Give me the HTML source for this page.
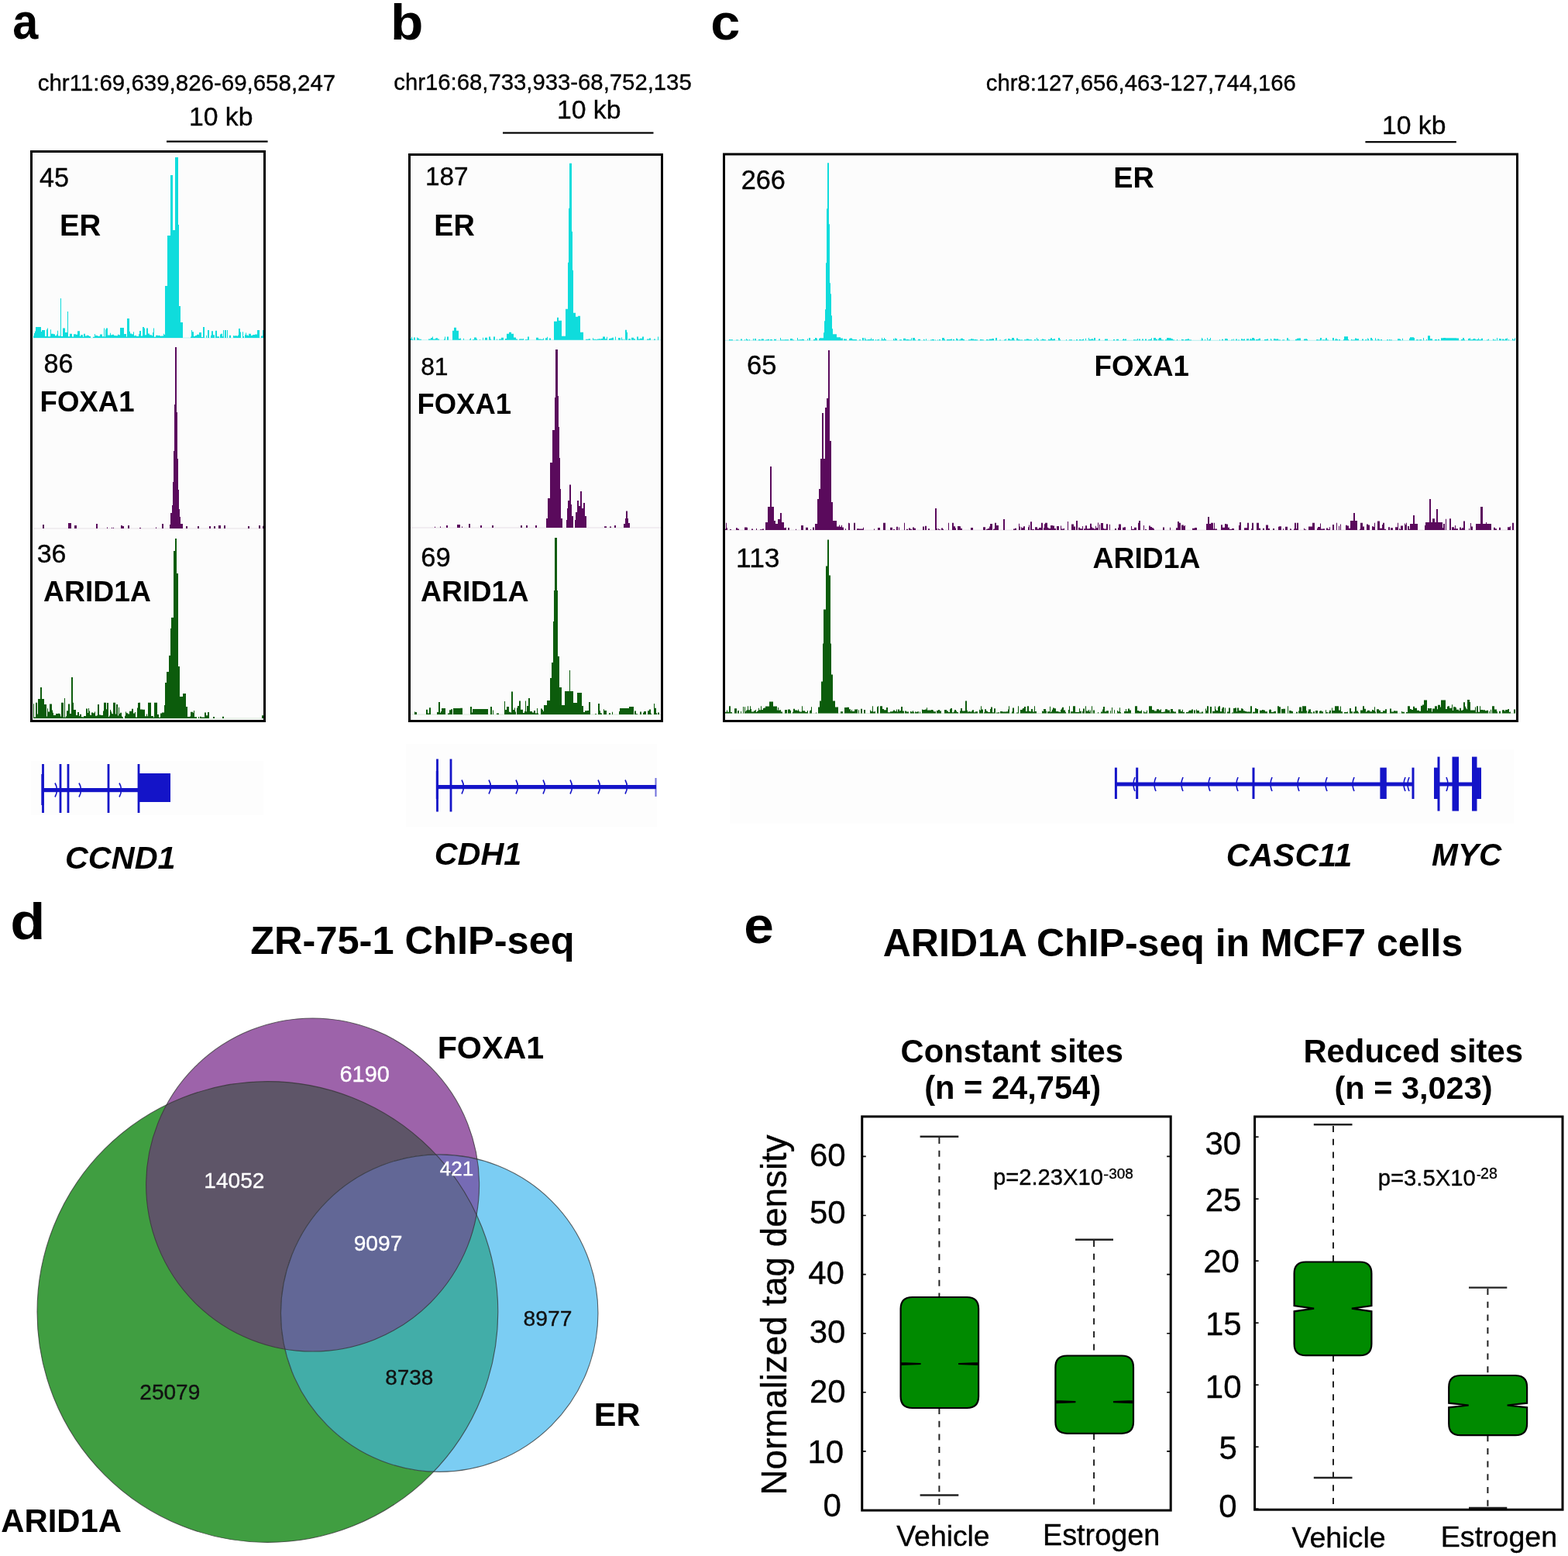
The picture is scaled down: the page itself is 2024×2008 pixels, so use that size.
<!DOCTYPE html>
<html><head><meta charset="utf-8"><title>ARID1A ChIP-seq figure</title>
<style>
html,body{margin:0;padding:0;background:#fff;}
svg{display:block;}
text{font-family:"Liberation Sans",Arial,Helvetica,sans-serif;}
</style></head><body>
<svg width="2024" height="2008" viewBox="0 0 2024 2008">
<rect width="2024" height="2008" fill="#fff"/>
<rect x="40.5" y="195.5" width="301" height="735" fill="#fcfcfc"/>
<rect x="528.5" y="199.5" width="326" height="731" fill="#fcfcfc"/>
<rect x="934.5" y="199" width="1024" height="731.5" fill="#fcfcfc"/>
<rect x="40" y="982" width="300" height="70" fill="#fdfdfd"/>
<rect x="524" y="960" width="324" height="107" fill="#fdfdfd"/>
<rect x="942" y="967" width="1012" height="96" fill="#fdfdfd"/>
<rect x="43" y="435.5" width="297" height="1" fill="#c8f2f2"/><path d="M43.0 436V433.3H44.0V429.9H45.0V427.5H46.0V422.0H47.0V422.0H48.0V422.0H49.0V422.0H50.0V422.0H51.0V422.0H52.0V422.0H53.0V428.1H54.0V426.0H55.0V426.0H56.0V426.0H57.0V426.0H58.0V434.1H59.0V434.1H60.0V425.3H61.0V423.6H62.0V434.2H63.0V434.2H64.0V434.2H65.0V425.3H66.0V430.8H67.0V430.8H68.0V430.8H69.0V431.3H70.0V431.3H71.0V433.3H72.0V433.3H73.0V431.5H74.0V426.8H75.0V433.4H76.0V433.4H77.0V433.4H78.0V385.0H79.0V433.9H80.0V433.9H81.0V423.6H82.0V423.6H83.0V423.6H84.0V429.0H85.0V429.0H86.0V429.0H87.0V402.0H88.0V434.2H89.0V434.2H90.0V430.7H91.0V430.7H92.0V430.7H93.0V434.6H94.0V434.6H95.0V431.3H96.0V431.3H97.0V431.3H98.0V431.7H99.0V431.7H100.0V427.3H101.0V427.3H102.0V427.3H103.0V434.1H104.0V432.3H105.0V432.3H106.0V432.3H107.0V434.7H108.0V430.7H109.0V430.7H110.0V433.4H111.0V433.4H112.0V432.4H113.0V433.1H114.0V433.1H115.0V434.0H116.0V434.0H117.0V436ZM120.0 436V434.7H121.0V434.7H122.0V430.9H123.0V432.9H124.0V432.9H125.0V432.9H126.0V433.8H127.0V433.8H128.0V433.8H129.0V431.5H130.0V431.5H131.0V431.5H132.0V434.3H133.0V434.3H134.0V423.6H135.0V434.4H136.0V425.2H137.0V423.6H138.0V423.6H139.0V432.5H140.0V432.5H141.0V432.5H142.0V429.8H143.0V432.3H144.0V432.3H145.0V431.8H146.0V431.8H147.0V432.9H148.0V432.9H149.0V433.3H150.0V433.3H151.0V433.3H152.0V431.6H153.0V432.2H154.0V432.2H155.0V423.0H156.0V423.0H157.0V423.0H158.0V423.0H159.0V423.0H160.0V431.0H161.0V431.0H162.0V431.0H163.0V434.5H164.0V411.0H165.0V411.0H166.0V411.0H167.0V427.7H168.0V430.6H169.0V430.6H170.0V431.3H171.0V431.3H172.0V428.2H173.0V433.3H174.0V433.3H175.0V432.7H176.0V433.9H177.0V433.9H178.0V433.9H179.0V431.2H180.0V427.1H181.0V427.1H182.0V433.6H183.0V433.6H184.0V422.0H185.0V422.0H186.0V423.6H187.0V432.3H188.0V432.3H189.0V423.6H190.0V423.6H191.0V430.6H192.0V430.6H193.0V432.3H194.0V432.3H195.0V432.3H196.0V433.2H197.0V429.1H198.0V423.6H199.0V434.8H200.0V434.8H201.0V432.7H202.0V432.7H203.0V432.7H204.0V433.1H205.0V433.1H206.0V433.1H207.0V434.1H208.0V433.5H209.0V433.5H210.0V433.5H211.0V430.8H212.0V432.0H213.0V369.0H214.0V369.0H215.0V369.0H216.0V304.0H217.0V304.0H218.0V304.0H219.0V304.0H220.0V226.0H221.0V226.0H222.0V226.0H223.0V297.0H224.0V297.0H225.0V297.0H226.0V203.0H227.0V203.0H228.0V203.0H229.0V203.0H230.0V290.0H231.0V395.0H232.0V395.0H233.0V416.0H234.0V416.0H235.0V416.0H236.0V436ZM246.0 436V434.5H247.0V425.9H248.0V428.3H249.0V428.3H250.0V434.1H251.0V434.1H252.0V433.0H253.0V433.0H254.0V431.8H255.0V431.8H256.0V431.8H257.0V429.0H258.0V429.0H259.0V429.0H260.0V434.9H261.0V434.9H262.0V422.0H263.0V422.0H264.0V436ZM266.0 436V432.7H267.0V436ZM268.0 436V425.9H269.0V425.9H270.0V436ZM272.0 436V432.8H273.0V427.3H274.0V427.3H275.0V432.3H276.0V432.3H277.0V436ZM278.0 436V426.8H279.0V426.8H280.0V434.2H281.0V434.2H282.0V434.2H283.0V436ZM284.0 436V431.5H285.0V430.7H286.0V430.7H287.0V434.3H288.0V425.9H289.0V436ZM290.0 436V426.0H291.0V426.0H292.0V436ZM293.0 436V425.9H294.0V436ZM296.0 436V432.7H297.0V432.7H298.0V436ZM301.0 436V433.1H302.0V433.5H303.0V433.2H304.0V433.2H305.0V433.2H306.0V433.7H307.0V432.4H308.0V424.0H309.0V424.0H310.0V428.5H311.0V436ZM313.0 436V428.2H314.0V433.9H315.0V436ZM316.0 436V432.0H317.0V429.4H318.0V432.5H319.0V432.5H320.0V433.3H321.0V430.7H322.0V430.7H323.0V430.7H324.0V433.0H325.0V433.0H326.0V432.0H327.0V432.0H328.0V432.0H329.0V431.4H330.0V431.4H331.0V431.4H332.0V425.9H333.0V425.9H334.0V425.9H335.0V436ZM337.0 436V433.4H338.0V433.4H339.0V425.9H340.0V436Z" fill="#0fdcdc"/>
<rect x="43" y="681.5" width="297" height="1" fill="#e6e0e6"/><path d="M55.0 682V677.0H56.0V677.0H57.0V682ZM88.0 682V675.0H89.0V675.0H90.0V675.0H91.0V675.0H92.0V682ZM96.0 682V678.0H97.0V678.0H98.0V678.0H99.0V682ZM124.0 682V676.0H125.0V676.0H126.0V682ZM138.0 682V680.4H139.0V682ZM144.0 682V680.7H145.0V682ZM146.0 682V680.8H147.0V682ZM156.0 682V678.0H157.0V678.0H158.0V678.9H159.0V678.9H160.0V682ZM165.0 682V678.0H166.0V678.0H167.0V682ZM180.0 682V681.1H181.0V681.1H182.0V682ZM201.0 682V680.6H202.0V682ZM209.0 682V676.0H210.0V676.0H211.0V682ZM219.0 682V677.0H220.0V662.0H221.0V662.0H222.0V652.0H223.0V622.0H224.0V582.0H225.0V522.0H226.0V448.0H227.0V448.0H228.0V532.0H229.0V592.0H230.0V632.0H231.0V657.0H232.0V667.0H233.0V676.0H234.0V676.0H235.0V676.0H236.0V682ZM240.0 682V679.0H241.0V679.0H242.0V682ZM255.0 682V679.0H256.0V679.0H257.0V682ZM270.0 682V679.0H271.0V679.0H272.0V682ZM276.0 682V679.0H277.0V679.0H278.0V682ZM282.0 682V678.0H283.0V678.0H284.0V678.0H285.0V682ZM289.0 682V678.0H290.0V678.0H291.0V682ZM320.0 682V679.0H321.0V679.0H322.0V682ZM334.0 682V678.0H335.0V678.0H336.0V682ZM339.0 682V678.7H340.0V682Z" fill="#5a0a5c"/>
<rect x="43" y="926.5" width="297" height="1" fill="#d8e8d8"/><path d="M43.0 927V908.3H44.0V925.6H45.0V925.6H46.0V906.8H47.0V906.8H48.0V921.4H49.0V902.0H50.0V902.0H51.0V902.0H52.0V887.0H53.0V887.0H54.0V902.0H55.0V902.0H56.0V902.0H57.0V909.0H58.0V909.0H59.0V909.0H60.0V924.6H61.0V914.2H62.0V918.5H63.0V918.5H64.0V908.4H65.0V908.4H66.0V908.4H67.0V916.4H68.0V919.8H69.0V923.0H70.0V923.0H71.0V923.0H72.0V921.0H73.0V921.0H74.0V921.0H75.0V920.8H76.0V920.8H77.0V921.4H78.0V924.5H79.0V906.8H80.0V906.8H81.0V906.8H82.0V925.7H83.0V901.0H84.0V925.7H85.0V924.2H86.0V917.2H87.0V917.2H88.0V908.4H89.0V908.4H90.0V921.0H91.0V921.0H92.0V874.0H93.0V874.0H94.0V906.8H95.0V916.0H96.0V916.0H97.0V916.0H98.0V922.9H99.0V922.9H100.0V919.1H101.0V919.1H102.0V923.9H103.0V921.7H104.0V921.7H105.0V925.3H106.0V925.3H107.0V925.5H108.0V924.1H109.0V924.1H110.0V924.1H111.0V914.5H112.0V914.5H113.0V919.9H114.0V914.0H115.0V917.4H116.0V922.4H117.0V923.1H118.0V919.6H119.0V919.6H120.0V920.3H121.0V920.3H122.0V918.5H123.0V923.8H124.0V923.8H125.0V923.2H126.0V909.0H127.0V909.0H128.0V922.4H129.0V922.4H130.0V923.1H131.0V923.1H132.0V923.1H133.0V917.6H134.0V906.8H135.0V906.8H136.0V906.8H137.0V915.3H138.0V907.0H139.0V907.0H140.0V925.1H141.0V923.4H142.0V916.1H143.0V918.3H144.0V920.7H145.0V921.2H146.0V906.8H147.0V906.8H148.0V906.8H149.0V921.5H150.0V909.0H151.0V909.0H152.0V923.5H153.0V912.8H154.0V921.3H155.0V919.7H156.0V919.7H157.0V924.5H158.0V925.4H159.0V927ZM161.0 927V923.8H162.0V918.6H163.0V920.3H164.0V920.3H165.0V921.3H166.0V921.4H167.0V917.7H168.0V917.7H169.0V917.7H170.0V914.8H171.0V914.8H172.0V920.4H173.0V920.4H174.0V919.1H175.0V925.4H176.0V925.4H177.0V913.4H178.0V907.0H179.0V906.8H180.0V906.8H181.0V915.5H182.0V915.5H183.0V915.5H184.0V915.7H185.0V915.7H186.0V915.7H187.0V924.2H188.0V924.2H189.0V921.4H190.0V924.3H191.0V906.8H192.0V906.8H193.0V906.8H194.0V906.8H195.0V923.9H196.0V923.9H197.0V923.9H198.0V925.7H199.0V906.8H200.0V906.8H201.0V906.8H202.0V906.8H203.0V922.1H204.0V922.1H205.0V925.8H206.0V925.8H207.0V920.5H208.0V920.5H209.0V919.6H210.0V919.6H211.0V919.6H212.0V909.9H213.0V881.0H214.0V881.0H215.0V867.0H216.0V867.0H217.0V867.0H218.0V846.0H219.0V846.0H220.0V811.0H221.0V797.0H222.0V797.0H223.0V797.0H224.0V711.0H225.0V711.0H226.0V695.0H227.0V695.0H228.0V740.0H229.0V740.0H230.0V860.0H231.0V860.0H232.0V899.0H233.0V899.0H234.0V899.0H235.0V899.0H236.0V895.0H237.0V895.0H238.0V895.0H239.0V895.0H240.0V912.0H241.0V912.0H242.0V925.0H243.0V925.0H244.0V925.0H245.0V924.6H246.0V918.7H247.0V918.7H248.0V918.7H249.0V919.8H250.0V917.1H251.0V925.2H252.0V925.2H253.0V925.2H254.0V927ZM256.0 927V924.9H257.0V927ZM258.0 927V924.8H259.0V924.8H260.0V925.7H261.0V925.4H262.0V925.4H263.0V925.8H264.0V919.4H265.0V919.4H266.0V923.3H267.0V923.3H268.0V919.1H269.0V919.1H270.0V927ZM275.0 927V924.9H276.0V924.9H277.0V927ZM287.0 927V924.8H288.0V924.8H289.0V927ZM338.0 927V923.3H339.0V923.3H340.0V927Z" fill="#0c5c0c"/>
<rect x="530" y="438.25" width="323" height="1" fill="#c8f2f2"/><path d="M530.0 438.75V437.0H531.0V434.8H532.0V437.5H533.0V438.75ZM534.0 438.75V435.4H535.0V435.4H536.0V438.75ZM538.0 438.75V435.5H539.0V436.4H540.0V436.4H541.0V437.7H542.0V437.7H543.0V437.7H544.0V438.75ZM553.0 438.75V437.6H554.0V437.6H555.0V437.6H556.0V435.9H557.0V435.9H558.0V434.6H559.0V437.4H560.0V437.4H561.0V437.4H562.0V436.4H563.0V436.3H564.0V436.3H565.0V437.6H566.0V437.6H567.0V438.75ZM573.0 438.75V437.4H574.0V434.6H575.0V438.75ZM577.0 438.75V434.6H578.0V434.6H579.0V438.75ZM584.0 438.75V426.8H585.0V426.8H586.0V422.8H587.0V422.8H588.0V422.8H589.0V426.8H590.0V426.8H591.0V426.8H592.0V436.9H593.0V436.9H594.0V436.5H595.0V438.75ZM598.0 438.75V436.8H599.0V438.75ZM606.0 438.75V437.4H607.0V436.6H608.0V438.75ZM610.0 438.75V437.9H611.0V437.9H612.0V435.5H613.0V435.5H614.0V435.5H615.0V437.2H616.0V438.75ZM619.0 438.75V437.9H620.0V438.75ZM623.0 438.75V435.8H624.0V438.75ZM626.0 438.75V435.7H627.0V435.7H628.0V435.7H629.0V438.75ZM631.0 438.75V434.6H632.0V434.6H633.0V437.5H634.0V438.75ZM637.0 438.75V434.6H638.0V434.6H639.0V438.75ZM641.0 438.75V437.5H642.0V438.75ZM644.0 438.75V437.4H645.0V437.4H646.0V437.4H647.0V435.8H648.0V435.8H649.0V435.8H650.0V438.75ZM652.0 438.75V437.1H653.0V437.1H654.0V430.8H655.0V430.8H656.0V430.8H657.0V428.8H658.0V428.8H659.0V428.8H660.0V430.8H661.0V430.8H662.0V430.8H663.0V435.6H664.0V435.5H665.0V435.5H666.0V437.4H667.0V437.4H668.0V438.75ZM670.0 438.75V437.5H671.0V437.5H672.0V437.3H673.0V437.6H674.0V437.6H675.0V437.0H676.0V438.75ZM678.0 438.75V437.9H679.0V437.9H680.0V437.9H681.0V434.6H682.0V434.6H683.0V438.75ZM692.0 438.75V435.7H693.0V435.7H694.0V435.7H695.0V437.6H696.0V437.6H697.0V437.6H698.0V437.7H699.0V437.7H700.0V437.7H701.0V436.6H702.0V438.75ZM704.0 438.75V436.3H705.0V436.3H706.0V434.8H707.0V438.75ZM709.0 438.75V436.5H710.0V436.5H711.0V438.75ZM715.0 438.75V414.8H716.0V414.8H717.0V414.8H718.0V414.8H719.0V409.8H720.0V409.8H721.0V413.8H722.0V413.8H723.0V413.8H724.0V413.8H725.0V433.8H726.0V433.8H727.0V433.8H728.0V433.8H729.0V433.8H730.0V398.8H731.0V398.8H732.0V398.8H733.0V338.8H734.0V268.8H735.0V210.8H736.0V210.8H737.0V210.8H738.0V298.8H739.0V348.8H740.0V403.8H741.0V403.8H742.0V403.8H743.0V408.8H744.0V408.8H745.0V408.8H746.0V407.8H747.0V407.8H748.0V407.8H749.0V428.8H750.0V428.8H751.0V428.8H752.0V428.8H753.0V438.75ZM756.0 438.75V437.7H757.0V437.7H758.0V437.7H759.0V437.6H760.0V437.2H761.0V437.2H762.0V438.75ZM765.0 438.75V436.2H766.0V437.7H767.0V437.7H768.0V437.7H769.0V438.0H770.0V438.0H771.0V437.5H772.0V437.5H773.0V437.3H774.0V437.3H775.0V437.4H776.0V437.0H777.0V437.1H778.0V434.6H779.0V434.6H780.0V434.6H781.0V437.2H782.0V437.2H783.0V434.7H784.0V438.75ZM786.0 438.75V436.9H787.0V436.9H788.0V436.6H789.0V436.6H790.0V435.7H791.0V435.7H792.0V438.75ZM794.0 438.75V434.6H795.0V438.75ZM798.0 438.75V436.1H799.0V436.1H800.0V436.2H801.0V438.75ZM802.0 438.75V435.4H803.0V437.7H804.0V438.75ZM805.0 438.75V437.5H806.0V438.75ZM807.0 438.75V425.8H808.0V425.8H809.0V428.8H810.0V438.75ZM811.0 438.75V437.3H812.0V437.3H813.0V437.3H814.0V438.75ZM815.0 438.75V435.8H816.0V435.8H817.0V435.8H818.0V437.3H819.0V437.3H820.0V438.75ZM822.0 438.75V434.6H823.0V434.6H824.0V437.5H825.0V437.5H826.0V436.8H827.0V436.8H828.0V436.8H829.0V434.6H830.0V434.6H831.0V438.75ZM835.0 438.75V437.6H836.0V437.6H837.0V437.6H838.0V436.5H839.0V436.5H840.0V438.75ZM844.0 438.75V437.5H845.0V437.5H846.0V438.75ZM849.0 438.75V434.6H850.0V438.75Z" fill="#0fdcdc"/>
<rect x="530" y="680.5" width="323" height="1" fill="#e6dde6"/><path d="M561.0 681V679.7H562.0V681ZM568.0 681V679.4H569.0V681ZM576.0 681V678.0H577.0V678.0H578.0V681ZM590.0 681V677.0H591.0V677.0H592.0V677.0H593.0V677.0H594.0V681ZM596.0 681V679.6H597.0V681ZM605.0 681V676.1H606.0V676.1H607.0V681ZM620.0 681V678.0H621.0V678.0H622.0V681ZM635.0 681V678.0H636.0V678.0H637.0V681ZM672.0 681V678.0H673.0V678.0H674.0V681ZM679.0 681V678.0H680.0V678.0H681.0V681ZM691.0 681V678.0H692.0V678.0H693.0V681ZM705.0 681V669.0H706.0V669.0H707.0V643.0H708.0V643.0H709.0V643.0H710.0V597.0H711.0V597.0H712.0V597.0H713.0V555.0H714.0V555.0H715.0V555.0H716.0V513.0H717.0V451.0H718.0V451.0H719.0V451.0H720.0V511.0H721.0V551.0H722.0V591.0H723.0V631.0H724.0V669.0H725.0V669.0H726.0V681ZM731.0 681V671.0H732.0V656.0H733.0V646.0H734.0V646.0H735.0V625.5H736.0V625.5H737.0V651.0H738.0V666.0H739.0V666.0H740.0V681ZM742.0 681V671.0H743.0V661.0H744.0V661.0H745.0V646.0H746.0V646.0H747.0V653.0H748.0V653.0H749.0V634.0H750.0V634.0H751.0V656.0H752.0V656.0H753.0V649.0H754.0V649.0H755.0V666.0H756.0V666.0H757.0V681ZM780.0 681V679.3H781.0V679.3H782.0V679.3H783.0V681ZM787.0 681V679.6H788.0V679.6H789.0V681ZM793.0 681V678.0H794.0V678.0H795.0V681ZM805.0 681V676.0H806.0V676.0H807.0V669.0H808.0V659.5H809.0V659.5H810.0V669.0H811.0V675.0H812.0V675.0H813.0V681Z" fill="#5a0a5c"/>
<rect x="530" y="921.5" width="323" height="1" fill="#d8e8d8"/><path d="M535.0 922V918.6H536.0V919.0H537.0V919.0H538.0V922ZM550.0 922V915.7H551.0V915.7H552.0V920.6H553.0V920.6H554.0V913.2H555.0V913.2H556.0V922ZM564.0 922V918.9H565.0V918.9H566.0V906.0H567.0V906.0H568.0V919.8H569.0V918.0H570.0V914.0H571.0V914.0H572.0V914.0H573.0V914.0H574.0V914.0H575.0V922ZM578.0 922V920.6H579.0V920.6H580.0V916.3H581.0V916.3H582.0V915.3H583.0V915.3H584.0V922ZM585.0 922V914.0H586.0V914.0H587.0V914.0H588.0V914.0H589.0V914.0H590.0V914.0H591.0V914.0H592.0V914.0H593.0V914.0H594.0V913.7H595.0V913.7H596.0V913.7H597.0V922ZM607.0 922V911.9H608.0V911.9H609.0V919.6H610.0V915.0H611.0V915.0H612.0V915.0H613.0V915.0H614.0V915.0H615.0V915.0H616.0V915.0H617.0V915.0H618.0V915.0H619.0V915.0H620.0V915.0H621.0V915.0H622.0V915.0H623.0V915.0H624.0V915.0H625.0V915.0H626.0V915.0H627.0V915.0H628.0V915.1H629.0V915.1H630.0V922ZM633.0 922V911.9H634.0V911.9H635.0V922ZM636.0 922V916.5H637.0V922ZM641.0 922V920.4H642.0V920.4H643.0V920.4H644.0V922ZM651.0 922V904.9H652.0V916.0H653.0V916.0H654.0V911.9H655.0V911.9H656.0V911.9H657.0V918.7H658.0V918.7H659.0V919.6H660.0V892.5H661.0V892.5H662.0V915.9H663.0V915.9H664.0V913.5H665.0V918.6H666.0V922ZM667.0 922V913.6H668.0V911.0H669.0V911.0H670.0V904.4H671.0V904.4H672.0V915.7H673.0V915.7H674.0V915.7H675.0V920.1H676.0V920.1H677.0V917.9H678.0V904.4H679.0V918.3H680.0V911.0H681.0V911.0H682.0V901.0H683.0V901.0H684.0V918.1H685.0V918.1H686.0V918.1H687.0V919.6H688.0V919.6H689.0V916.9H690.0V916.9H691.0V920.4H692.0V920.4H693.0V914.0H694.0V920.4H695.0V922ZM698.0 922V914.4H699.0V914.4H700.0V916.0H701.0V918.1H702.0V910.0H703.0V910.0H704.0V910.0H705.0V910.0H706.0V904.0H707.0V904.0H708.0V904.0H709.0V904.0H710.0V875.0H711.0V875.0H712.0V855.0H713.0V855.0H714.0V802.0H715.0V762.0H716.0V694.0H717.0V694.0H718.0V694.0H719.0V762.0H720.0V847.0H721.0V847.0H722.0V887.0H723.0V887.0H724.0V887.0H725.0V910.0H726.0V910.0H727.0V910.0H728.0V910.0H729.0V892.0H730.0V892.0H731.0V892.0H732.0V892.0H733.0V892.0H734.0V892.0H735.0V865.0H736.0V892.0H737.0V892.0H738.0V892.0H739.0V892.0H740.0V907.0H741.0V907.0H742.0V907.0H743.0V907.0H744.0V907.0H745.0V894.0H746.0V894.0H747.0V894.0H748.0V894.0H749.0V894.0H750.0V894.0H751.0V911.0H752.0V911.0H753.0V918.9H754.0V918.9H755.0V917.2H756.0V917.2H757.0V917.2H758.0V917.1H759.0V917.1H760.0V906.0H761.0V906.0H762.0V922ZM768.0 922V921.2H769.0V921.2H770.0V922ZM772.0 922V908.0H773.0V908.0H774.0V917.2H775.0V920.3H776.0V920.4H777.0V922ZM779.0 922V915.2H780.0V916.9H781.0V916.9H782.0V916.9H783.0V922ZM786.0 922V920.2H787.0V920.2H788.0V922ZM790.0 922V918.7H791.0V922ZM799.0 922V918.1H800.0V914.0H801.0V914.0H802.0V914.0H803.0V914.0H804.0V914.0H805.0V914.0H806.0V914.0H807.0V914.0H808.0V914.0H809.0V914.0H810.0V914.0H811.0V914.0H812.0V912.0H813.0V912.0H814.0V912.0H815.0V912.0H816.0V912.0H817.0V912.0H818.0V922ZM819.0 922V917.4H820.0V917.4H821.0V921.3H822.0V921.3H823.0V922ZM826.0 922V918.6H827.0V918.6H828.0V922ZM830.0 922V919.8H831.0V918.1H832.0V918.1H833.0V918.1H834.0V922ZM836.0 922V917.3H837.0V917.3H838.0V915.6H839.0V915.6H840.0V920.7H841.0V922ZM844.0 922V908.0H845.0V913.8H846.0V913.8H847.0V920.2H848.0V922ZM849.0 922V919.5H850.0V919.5H851.0V922Z" fill="#0c5c0c"/>
<rect x="936" y="438.8" width="1020" height="1" fill="#b8eeee"/><path d="M941.0 439.3V438.1H942.0V438.3H943.0V438.2H944.0V438.2H945.0V438.2H946.0V439.3ZM950.0 439.3V438.5H951.0V438.5H952.0V438.5H953.0V439.3ZM956.0 439.3V437.6H957.0V437.6H958.0V439.3ZM961.0 439.3V438.2H962.0V439.3ZM963.0 439.3V437.0H964.0V438.2H965.0V438.2H966.0V439.3ZM967.0 439.3V437.9H968.0V439.3ZM972.0 439.3V437.1H973.0V439.3ZM974.0 439.3V436.9H975.0V436.9H976.0V439.3ZM979.0 439.3V437.9H980.0V437.9H981.0V438.4H982.0V438.4H983.0V437.3H984.0V437.5H985.0V437.5H986.0V439.3ZM987.0 439.3V438.7H988.0V438.7H989.0V438.2H990.0V438.2H991.0V437.7H992.0V437.7H993.0V439.3ZM994.0 439.3V438.1H995.0V438.1H996.0V438.1H997.0V439.3ZM999.0 439.3V437.6H1000.0V438.1H1001.0V437.5H1002.0V439.3ZM1007.0 439.3V435.9H1008.0V438.5H1009.0V438.5H1010.0V438.5H1011.0V438.5H1012.0V438.5H1013.0V438.3H1014.0V438.3H1015.0V438.3H1016.0V438.3H1017.0V438.2H1018.0V439.3ZM1020.0 439.3V436.9H1021.0V436.9H1022.0V436.9H1023.0V438.5H1024.0V438.5H1025.0V439.3ZM1029.0 439.3V435.9H1030.0V438.4H1031.0V438.4H1032.0V438.3H1033.0V438.3H1034.0V438.3H1035.0V437.8H1036.0V437.8H1037.0V437.9H1038.0V439.3ZM1042.0 439.3V437.2H1043.0V439.3ZM1044.0 439.3V435.9H1045.0V435.9H1046.0V439.3ZM1050.0 439.3V438.1H1051.0V438.1H1052.0V436.1H1053.0V436.1H1054.0V436.8H1055.0V439.3ZM1057.0 439.3V437.1H1058.0V436.3H1059.0V436.3H1060.0V436.3H1061.0V436.3H1062.0V436.3H1063.0V429.3H1064.0V414.3H1065.0V399.3H1066.0V339.3H1067.0V269.3H1068.0V210.3H1069.0V210.3H1070.0V289.3H1071.0V365.3H1072.0V379.3H1073.0V407.3H1074.0V424.3H1075.0V431.3H1076.0V431.3H1077.0V431.3H1078.0V431.3H1079.0V431.3H1080.0V435.3H1081.0V435.3H1082.0V435.3H1083.0V435.3H1084.0V435.3H1085.0V436.4H1086.0V436.4H1087.0V436.4H1088.0V439.3ZM1089.0 439.3V437.2H1090.0V437.6H1091.0V437.6H1092.0V437.6H1093.0V439.3ZM1096.0 439.3V437.2H1097.0V436.6H1098.0V436.6H1099.0V436.6H1100.0V437.7H1101.0V437.9H1102.0V437.9H1103.0V437.9H1104.0V437.9H1105.0V437.9H1106.0V439.3ZM1109.0 439.3V438.2H1110.0V438.3H1111.0V439.3ZM1113.0 439.3V435.9H1114.0V435.9H1115.0V439.3ZM1116.0 439.3V435.9H1117.0V437.8H1118.0V438.5H1119.0V438.5H1120.0V437.9H1121.0V437.9H1122.0V438.1H1123.0V438.0H1124.0V436.3H1125.0V438.2H1126.0V437.8H1127.0V437.8H1128.0V439.3ZM1130.0 439.3V438.1H1131.0V439.3ZM1132.0 439.3V438.2H1133.0V438.2H1134.0V437.8H1135.0V439.3ZM1137.0 439.3V438.6H1138.0V436.0H1139.0V438.1H1140.0V438.1H1141.0V435.9H1142.0V437.5H1143.0V438.1H1144.0V439.3ZM1153.0 439.3V437.1H1154.0V438.5H1155.0V436.3H1156.0V436.9H1157.0V436.9H1158.0V439.3ZM1161.0 439.3V438.3H1162.0V438.3H1163.0V438.2H1164.0V439.3ZM1166.0 439.3V436.7H1167.0V436.7H1168.0V436.7H1169.0V438.3H1170.0V438.1H1171.0V438.1H1172.0V438.1H1173.0V438.4H1174.0V438.4H1175.0V438.4H1176.0V436.3H1177.0V439.3ZM1178.0 439.3V435.9H1179.0V435.9H1180.0V435.9H1181.0V438.3H1182.0V439.3ZM1185.0 439.3V437.8H1186.0V437.8H1187.0V437.8H1188.0V439.3ZM1192.0 439.3V437.8H1193.0V438.5H1194.0V439.3ZM1195.0 439.3V437.2H1196.0V439.3ZM1201.0 439.3V438.5H1202.0V438.5H1203.0V437.8H1204.0V437.9H1205.0V437.9H1206.0V439.3ZM1207.0 439.3V438.4H1208.0V439.3ZM1210.0 439.3V438.5H1211.0V439.3ZM1212.0 439.3V437.9H1213.0V437.9H1214.0V439.3ZM1216.0 439.3V435.9H1217.0V435.9H1218.0V435.9H1219.0V438.1H1220.0V439.3ZM1222.0 439.3V438.0H1223.0V438.0H1224.0V438.0H1225.0V438.0H1226.0V438.0H1227.0V437.6H1228.0V437.6H1229.0V439.3ZM1230.0 439.3V437.8H1231.0V437.9H1232.0V439.3ZM1234.0 439.3V436.8H1235.0V436.8H1236.0V438.1H1237.0V439.3ZM1238.0 439.3V438.3H1239.0V438.3H1240.0V436.8H1241.0V436.8H1242.0V436.8H1243.0V437.7H1244.0V437.9H1245.0V439.3ZM1250.0 439.3V438.3H1251.0V438.3H1252.0V438.3H1253.0V437.3H1254.0V437.3H1255.0V437.4H1256.0V437.4H1257.0V438.2H1258.0V438.0H1259.0V438.0H1260.0V438.3H1261.0V438.3H1262.0V439.3ZM1265.0 439.3V438.1H1266.0V438.1H1267.0V438.2H1268.0V438.2H1269.0V438.5H1270.0V439.3ZM1273.0 439.3V438.1H1274.0V438.1H1275.0V438.5H1276.0V438.5H1277.0V437.5H1278.0V437.5H1279.0V437.8H1280.0V436.9H1281.0V436.9H1282.0V437.1H1283.0V439.3ZM1285.0 439.3V436.0H1286.0V436.0H1287.0V439.3ZM1290.0 439.3V438.6H1291.0V438.6H1292.0V439.3ZM1296.0 439.3V438.3H1297.0V438.3H1298.0V437.2H1299.0V439.3ZM1301.0 439.3V437.1H1302.0V437.1H1303.0V437.6H1304.0V438.3H1305.0V438.3H1306.0V435.9H1307.0V435.9H1308.0V435.9H1309.0V438.4H1310.0V439.3ZM1312.0 439.3V436.5H1313.0V436.5H1314.0V438.1H1315.0V438.1H1316.0V438.4H1317.0V438.4H1318.0V438.6H1319.0V438.6H1320.0V439.3ZM1322.0 439.3V438.3H1323.0V438.3H1324.0V438.3H1325.0V437.2H1326.0V437.5H1327.0V437.5H1328.0V438.2H1329.0V438.3H1330.0V438.3H1331.0V438.3H1332.0V439.3ZM1335.0 439.3V438.0H1336.0V438.0H1337.0V439.3ZM1338.0 439.3V436.0H1339.0V437.9H1340.0V437.9H1341.0V439.3ZM1343.0 439.3V438.5H1344.0V438.5H1345.0V437.4H1346.0V437.4H1347.0V438.0H1348.0V438.2H1349.0V438.2H1350.0V439.3ZM1353.0 439.3V437.7H1354.0V437.9H1355.0V437.9H1356.0V436.3H1357.0V436.3H1358.0V437.8H1359.0V437.8H1360.0V437.2H1361.0V437.2H1362.0V439.3ZM1366.0 439.3V435.9H1367.0V435.9H1368.0V438.0H1369.0V439.3ZM1376.0 439.3V437.9H1377.0V439.3ZM1380.0 439.3V438.2H1381.0V438.2H1382.0V438.2H1383.0V438.3H1384.0V439.3ZM1386.0 439.3V438.7H1387.0V439.3ZM1389.0 439.3V438.1H1390.0V438.1H1391.0V439.3ZM1393.0 439.3V438.0H1394.0V438.0H1395.0V438.4H1396.0V438.4H1397.0V438.0H1398.0V437.5H1399.0V439.3ZM1401.0 439.3V436.8H1402.0V439.3ZM1405.0 439.3V435.9H1406.0V438.1H1407.0V438.1H1408.0V438.1H1409.0V437.1H1410.0V437.5H1411.0V438.6H1412.0V435.9H1413.0V435.9H1414.0V439.3ZM1418.0 439.3V437.5H1419.0V437.2H1420.0V439.3ZM1426.0 439.3V437.4H1427.0V437.4H1428.0V437.4H1429.0V437.4H1430.0V439.3ZM1437.0 439.3V437.9H1438.0V437.9H1439.0V439.3ZM1441.0 439.3V437.8H1442.0V437.8H1443.0V437.8H1444.0V439.3ZM1449.0 439.3V437.9H1450.0V436.9H1451.0V438.2H1452.0V437.4H1453.0V437.4H1454.0V439.3ZM1463.0 439.3V438.2H1464.0V438.2H1465.0V438.4H1466.0V438.4H1467.0V438.4H1468.0V437.0H1469.0V439.3ZM1470.0 439.3V437.6H1471.0V437.6H1472.0V439.3ZM1474.0 439.3V437.5H1475.0V437.5H1476.0V439.3ZM1478.0 439.3V437.6H1479.0V437.6H1480.0V439.3ZM1482.0 439.3V438.3H1483.0V438.3H1484.0V437.8H1485.0V437.8H1486.0V436.2H1487.0V439.3ZM1489.0 439.3V436.1H1490.0V436.1H1491.0V436.1H1492.0V437.8H1493.0V437.5H1494.0V439.3ZM1495.0 439.3V437.2H1496.0V436.1H1497.0V436.0H1498.0V436.0H1499.0V438.2H1500.0V438.5H1501.0V438.5H1502.0V439.3ZM1504.0 439.3V438.2H1505.0V438.2H1506.0V435.9H1507.0V435.9H1508.0V435.9H1509.0V436.3H1510.0V436.3H1511.0V436.5H1512.0V437.3H1513.0V437.3H1514.0V438.5H1515.0V438.5H1516.0V439.3ZM1519.0 439.3V438.1H1520.0V439.3ZM1525.0 439.3V437.7H1526.0V438.1H1527.0V438.1H1528.0V439.3ZM1529.0 439.3V438.4H1530.0V437.9H1531.0V437.7H1532.0V437.7H1533.0V437.2H1534.0V437.2H1535.0V438.6H1536.0V438.6H1537.0V438.6H1538.0V439.3ZM1550.0 439.3V438.6H1551.0V435.9H1552.0V437.5H1553.0V439.3ZM1555.0 439.3V437.8H1556.0V439.3ZM1558.0 439.3V436.1H1559.0V439.3ZM1560.0 439.3V437.9H1561.0V437.9H1562.0V435.9H1563.0V439.3ZM1574.0 439.3V438.3H1575.0V439.3ZM1577.0 439.3V437.7H1578.0V437.7H1579.0V439.3ZM1581.0 439.3V437.1H1582.0V437.1H1583.0V437.1H1584.0V437.5H1585.0V439.3ZM1589.0 439.3V438.7H1590.0V437.8H1591.0V439.3ZM1592.0 439.3V437.4H1593.0V439.3ZM1595.0 439.3V437.4H1596.0V437.4H1597.0V439.3ZM1598.0 439.3V438.6H1599.0V438.6H1600.0V439.3ZM1602.0 439.3V437.2H1603.0V437.2H1604.0V438.3H1605.0V437.4H1606.0V437.4H1607.0V439.3ZM1609.0 439.3V437.3H1610.0V437.3H1611.0V437.3H1612.0V439.3ZM1613.0 439.3V437.9H1614.0V436.7H1615.0V438.1H1616.0V435.9H1617.0V435.9H1618.0V435.9H1619.0V437.6H1620.0V439.3ZM1621.0 439.3V438.0H1622.0V438.0H1623.0V438.0H1624.0V437.5H1625.0V436.8H1626.0V436.8H1627.0V439.3ZM1632.0 439.3V438.1H1633.0V438.1H1634.0V437.9H1635.0V437.5H1636.0V437.5H1637.0V439.3ZM1640.0 439.3V436.9H1641.0V438.4H1642.0V439.3ZM1644.0 439.3V437.1H1645.0V437.1H1646.0V437.6H1647.0V437.6H1648.0V437.6H1649.0V437.2H1650.0V438.4H1651.0V438.4H1652.0V438.4H1653.0V439.3ZM1655.0 439.3V438.4H1656.0V438.4H1657.0V438.2H1658.0V439.3ZM1661.0 439.3V436.3H1662.0V436.3H1663.0V438.5H1664.0V438.5H1665.0V439.3ZM1672.0 439.3V437.8H1673.0V437.8H1674.0V436.7H1675.0V436.7H1676.0V436.5H1677.0V436.5H1678.0V436.5H1679.0V439.3ZM1683.0 439.3V437.4H1684.0V437.4H1685.0V437.3H1686.0V437.3H1687.0V437.9H1688.0V439.3ZM1699.0 439.3V438.3H1700.0V437.9H1701.0V438.5H1702.0V438.5H1703.0V438.5H1704.0V435.9H1705.0V435.9H1706.0V439.3ZM1707.0 439.3V438.2H1708.0V438.5H1709.0V438.5H1710.0V438.5H1711.0V436.3H1712.0V436.3H1713.0V438.4H1714.0V438.4H1715.0V439.3ZM1720.0 439.3V436.1H1721.0V436.1H1722.0V439.3ZM1723.0 439.3V438.2H1724.0V436.7H1725.0V437.8H1726.0V437.8H1727.0V439.3ZM1728.0 439.3V438.0H1729.0V438.0H1730.0V439.3ZM1734.0 439.3V438.0H1735.0V434.3H1736.0V434.3H1737.0V434.3H1738.0V434.3H1739.0V434.3H1740.0V438.1H1741.0V439.3ZM1744.0 439.3V437.7H1745.0V438.4H1746.0V438.5H1747.0V438.5H1748.0V438.5H1749.0V436.4H1750.0V436.4H1751.0V437.3H1752.0V437.3H1753.0V437.3H1754.0V439.3ZM1758.0 439.3V437.6H1759.0V437.6H1760.0V439.3ZM1762.0 439.3V438.4H1763.0V437.8H1764.0V439.3ZM1765.0 439.3V436.5H1766.0V437.4H1767.0V439.3ZM1769.0 439.3V435.9H1770.0V435.9H1771.0V437.5H1772.0V439.3ZM1775.0 439.3V436.2H1776.0V438.4H1777.0V439.3ZM1778.0 439.3V437.5H1779.0V437.5H1780.0V438.3H1781.0V439.3ZM1782.0 439.3V438.1H1783.0V438.1H1784.0V439.3ZM1790.0 439.3V438.2H1791.0V438.2H1792.0V439.3ZM1793.0 439.3V437.9H1794.0V438.6H1795.0V438.6H1796.0V438.6H1797.0V439.3ZM1804.0 439.3V437.2H1805.0V437.2H1806.0V437.2H1807.0V437.8H1808.0V438.7H1809.0V439.3ZM1810.0 439.3V436.7H1811.0V439.3ZM1819.0 439.3V436.7H1820.0V435.3H1821.0V435.3H1822.0V435.3H1823.0V435.3H1824.0V435.3H1825.0V435.9H1826.0V439.3ZM1828.0 439.3V438.2H1829.0V438.2H1830.0V438.2H1831.0V439.3ZM1832.0 439.3V438.3H1833.0V438.3H1834.0V438.1H1835.0V439.3ZM1837.0 439.3V435.9H1838.0V439.3ZM1841.0 439.3V437.8H1842.0V439.3ZM1843.0 439.3V433.3H1844.0V433.3H1845.0V433.3H1846.0V437.3H1847.0V437.3H1848.0V437.3H1849.0V439.3ZM1852.0 439.3V437.9H1853.0V437.9H1854.0V437.9H1855.0V439.3ZM1856.0 439.3V437.7H1857.0V437.7H1858.0V439.3ZM1860.0 439.3V436.3H1861.0V436.3H1862.0V436.3H1863.0V435.9H1864.0V435.9H1865.0V435.9H1866.0V436.3H1867.0V436.3H1868.0V436.3H1869.0V436.3H1870.0V436.3H1871.0V436.3H1872.0V436.3H1873.0V436.3H1874.0V436.3H1875.0V436.3H1876.0V436.3H1877.0V436.3H1878.0V436.3H1879.0V436.3H1880.0V436.6H1881.0V436.6H1882.0V436.6H1883.0V439.3ZM1886.0 439.3V438.0H1887.0V438.0H1888.0V435.9H1889.0V435.9H1890.0V438.3H1891.0V439.3ZM1895.0 439.3V437.1H1896.0V437.1H1897.0V436.2H1898.0V438.3H1899.0V438.3H1900.0V438.3H1901.0V437.5H1902.0V437.1H1903.0V437.1H1904.0V437.5H1905.0V438.4H1906.0V437.9H1907.0V437.9H1908.0V436.6H1909.0V438.2H1910.0V438.2H1911.0V438.2H1912.0V436.8H1913.0V436.8H1914.0V439.3ZM1919.0 439.3V438.6H1920.0V438.6H1921.0V437.4H1922.0V439.3ZM1927.0 439.3V437.4H1928.0V438.4H1929.0V438.4H1930.0V438.4H1931.0V439.3ZM1932.0 439.3V435.9H1933.0V439.3ZM1935.0 439.3V437.1H1936.0V437.3H1937.0V437.3H1938.0V439.3ZM1939.0 439.3V437.5H1940.0V437.5H1941.0V438.5H1942.0V438.5H1943.0V436.9H1944.0V436.9H1945.0V436.6H1946.0V439.3ZM1947.0 439.3V438.0H1948.0V439.3ZM1952.0 439.3V436.9H1953.0V438.2H1954.0V438.2H1955.0V436.3H1956.0V439.3Z" fill="#0fdcdc"/>
<rect x="936" y="683.5" width="1020" height="1" fill="#e6dde6"/><path d="M936.0 684V682.4H937.0V674.7H938.0V681.2H939.0V684ZM942.0 684V683.1H943.0V683.1H944.0V684ZM950.0 684V681.2H951.0V681.2H952.0V682.5H953.0V682.5H954.0V684ZM961.0 684V680.5H962.0V680.5H963.0V680.5H964.0V680.8H965.0V684ZM970.0 684V682.5H971.0V682.5H972.0V684ZM976.0 684V682.0H977.0V684ZM981.0 684V683.2H982.0V683.2H983.0V683.2H984.0V682.4H985.0V682.4H986.0V684ZM988.0 684V674.0H989.0V674.0H990.0V674.0H991.0V654.0H992.0V654.0H993.0V654.0H994.0V602.0H995.0V602.0H996.0V654.0H997.0V654.0H998.0V654.0H999.0V672.0H1000.0V672.0H1001.0V676.0H1002.0V676.0H1003.0V676.0H1004.0V670.0H1005.0V670.0H1006.0V670.0H1007.0V662.0H1008.0V662.0H1009.0V674.0H1010.0V674.0H1011.0V674.0H1012.0V681.3H1013.0V681.3H1014.0V680.7H1015.0V684ZM1017.0 684V681.0H1018.0V681.0H1019.0V684ZM1027.0 684V682.7H1028.0V684ZM1034.0 684V678.1H1035.0V678.1H1036.0V678.1H1037.0V684ZM1040.0 684V680.8H1041.0V680.8H1042.0V680.8H1043.0V684ZM1046.0 684V682.9H1047.0V684ZM1049.0 684V680.6H1050.0V680.6H1051.0V684ZM1052.0 684V676.0H1053.0V676.0H1054.0V676.0H1055.0V644.0H1056.0V644.0H1057.0V631.0H1058.0V631.0H1059.0V592.0H1060.0V592.0H1061.0V533.0H1062.0V533.0H1063.0V592.0H1064.0V592.0H1065.0V526.0H1066.0V526.0H1067.0V514.0H1068.0V514.0H1069.0V452.0H1070.0V452.0H1071.0V569.0H1072.0V569.0H1073.0V648.0H1074.0V648.0H1075.0V672.0H1076.0V672.0H1077.0V672.0H1078.0V672.0H1079.0V672.0H1080.0V679.4H1081.0V679.4H1082.0V679.4H1083.0V677.6H1084.0V679.8H1085.0V679.8H1086.0V677.7H1087.0V680.6H1088.0V680.6H1089.0V684ZM1091.0 684V682.3H1092.0V684ZM1095.0 684V674.7H1096.0V675.3H1097.0V684ZM1102.0 684V674.7H1103.0V674.7H1104.0V684ZM1106.0 684V682.3H1107.0V682.3H1108.0V682.3H1109.0V682.6H1110.0V682.6H1111.0V682.5H1112.0V682.5H1113.0V682.5H1114.0V680.8H1115.0V684ZM1128.0 684V682.6H1129.0V684ZM1133.0 684V680.9H1134.0V680.9H1135.0V680.9H1136.0V684ZM1140.0 684V674.7H1141.0V674.7H1142.0V674.7H1143.0V684ZM1149.0 684V680.8H1150.0V680.8H1151.0V680.8H1152.0V684ZM1153.0 684V683.0H1154.0V683.0H1155.0V684ZM1157.0 684V679.7H1158.0V679.7H1159.0V684ZM1160.0 684V680.5H1161.0V684ZM1167.0 684V674.7H1168.0V684ZM1170.0 684V682.8H1171.0V682.8H1172.0V684ZM1173.0 684V681.6H1174.0V681.6H1175.0V682.8H1176.0V682.8H1177.0V684ZM1178.0 684V680.4H1179.0V680.4H1180.0V681.8H1181.0V681.8H1182.0V684ZM1191.0 684V679.6H1192.0V679.6H1193.0V684ZM1194.0 684V678.7H1195.0V678.7H1196.0V684ZM1198.0 684V682.2H1199.0V682.2H1200.0V684ZM1207.0 684V656.0H1208.0V656.0H1209.0V682.0H1210.0V684ZM1211.0 684V682.1H1212.0V683.3H1213.0V683.3H1214.0V684ZM1215.0 684V681.5H1216.0V681.5H1217.0V682.7H1218.0V684ZM1224.0 684V674.7H1225.0V684ZM1229.0 684V674.7H1230.0V674.7H1231.0V679.2H1232.0V679.2H1233.0V681.6H1234.0V684ZM1236.0 684V678.9H1237.0V678.9H1238.0V678.9H1239.0V679.3H1240.0V681.9H1241.0V681.9H1242.0V684ZM1253.0 684V681.0H1254.0V681.0H1255.0V681.0H1256.0V684ZM1269.0 684V680.3H1270.0V680.3H1271.0V680.3H1272.0V684ZM1273.0 684V682.7H1274.0V682.7H1275.0V682.1H1276.0V682.1H1277.0V679.5H1278.0V676.1H1279.0V676.1H1280.0V676.1H1281.0V684ZM1282.0 684V682.8H1283.0V682.6H1284.0V674.7H1285.0V674.7H1286.0V677.9H1287.0V677.9H1288.0V677.9H1289.0V684ZM1295.0 684V670.0H1296.0V670.0H1297.0V684ZM1308.0 684V682.6H1309.0V682.6H1310.0V681.7H1311.0V681.7H1312.0V684ZM1315.0 684V675.8H1316.0V679.6H1317.0V684ZM1318.0 684V680.3H1319.0V681.5H1320.0V680.9H1321.0V679.2H1322.0V679.2H1323.0V684ZM1327.0 684V680.3H1328.0V677.6H1329.0V684ZM1330.0 684V673.3H1331.0V673.3H1332.0V683.1H1333.0V683.1H1334.0V683.1H1335.0V684ZM1336.0 684V680.3H1337.0V680.3H1338.0V680.3H1339.0V682.5H1340.0V682.5H1341.0V680.9H1342.0V680.9H1343.0V680.9H1344.0V674.7H1345.0V674.7H1346.0V684ZM1347.0 684V681.2H1348.0V676.2H1349.0V674.7H1350.0V674.7H1351.0V674.7H1352.0V680.7H1353.0V681.6H1354.0V682.1H1355.0V682.1H1356.0V678.1H1357.0V678.1H1358.0V678.1H1359.0V678.6H1360.0V678.6H1361.0V682.0H1362.0V682.0H1363.0V684ZM1364.0 684V679.1H1365.0V679.1H1366.0V679.1H1367.0V684ZM1369.0 684V678.5H1370.0V682.4H1371.0V682.4H1372.0V682.4H1373.0V681.7H1374.0V684ZM1378.0 684V673.0H1379.0V684ZM1383.0 684V676.6H1384.0V676.6H1385.0V676.6H1386.0V679.6H1387.0V679.6H1388.0V684ZM1389.0 684V672.0H1390.0V672.0H1391.0V684ZM1392.0 684V680.7H1393.0V680.7H1394.0V681.9H1395.0V682.2H1396.0V682.2H1397.0V679.1H1398.0V684ZM1399.0 684V682.2H1400.0V682.2H1401.0V678.3H1402.0V678.3H1403.0V682.3H1404.0V682.3H1405.0V682.3H1406.0V682.0H1407.0V675.7H1408.0V675.7H1409.0V680.2H1410.0V681.4H1411.0V681.4H1412.0V682.5H1413.0V682.5H1414.0V678.8H1415.0V681.2H1416.0V681.2H1417.0V674.6H1418.0V684ZM1419.0 684V676.7H1420.0V684ZM1421.0 684V674.9H1422.0V674.9H1423.0V674.9H1424.0V681.8H1425.0V682.5H1426.0V682.5H1427.0V682.5H1428.0V676.3H1429.0V676.3H1430.0V684ZM1432.0 684V676.8H1433.0V684ZM1439.0 684V682.0H1440.0V682.0H1441.0V684ZM1443.0 684V680.9H1444.0V676.6H1445.0V676.6H1446.0V676.6H1447.0V684ZM1449.0 684V680.7H1450.0V680.7H1451.0V680.2H1452.0V680.2H1453.0V684ZM1460.0 684V678.9H1461.0V682.8H1462.0V682.8H1463.0V682.8H1464.0V680.7H1465.0V680.7H1466.0V680.7H1467.0V684ZM1469.0 684V674.7H1470.0V672.0H1471.0V672.0H1472.0V684ZM1476.0 684V677.9H1477.0V684ZM1478.0 684V682.9H1479.0V682.9H1480.0V684ZM1483.0 684V678.6H1484.0V678.6H1485.0V680.0H1486.0V680.0H1487.0V681.2H1488.0V681.2H1489.0V682.6H1490.0V684ZM1501.0 684V680.5H1502.0V680.5H1503.0V684ZM1510.0 684V680.7H1511.0V684ZM1518.0 684V681.3H1519.0V681.3H1520.0V673.0H1521.0V673.0H1522.0V674.7H1523.0V674.7H1524.0V684ZM1525.0 684V677.5H1526.0V677.5H1527.0V677.5H1528.0V678.9H1529.0V678.1H1530.0V684ZM1539.0 684V681.8H1540.0V681.8H1541.0V681.8H1542.0V681.1H1543.0V681.1H1544.0V681.1H1545.0V684ZM1557.0 684V676.0H1558.0V676.0H1559.0V667.0H1560.0V667.0H1561.0V676.0H1562.0V676.0H1563.0V674.7H1564.0V674.7H1565.0V674.7H1566.0V682.4H1567.0V674.7H1568.0V682.5H1569.0V682.5H1570.0V682.5H1571.0V684ZM1576.0 684V677.3H1577.0V677.3H1578.0V680.8H1579.0V680.8H1580.0V680.8H1581.0V676.1H1582.0V676.1H1583.0V676.5H1584.0V676.5H1585.0V680.8H1586.0V680.8H1587.0V682.9H1588.0V682.9H1589.0V682.9H1590.0V681.9H1591.0V681.9H1592.0V681.9H1593.0V684ZM1599.0 684V677.9H1600.0V674.0H1601.0V674.0H1602.0V684ZM1606.0 684V681.3H1607.0V681.3H1608.0V681.3H1609.0V681.3H1610.0V674.7H1611.0V674.7H1612.0V684ZM1615.0 684V682.3H1616.0V674.8H1617.0V674.8H1618.0V684ZM1622.0 684V674.7H1623.0V674.7H1624.0V674.7H1625.0V681.7H1626.0V681.7H1627.0V684ZM1630.0 684V681.8H1631.0V681.8H1632.0V684ZM1634.0 684V677.6H1635.0V677.6H1636.0V677.6H1637.0V682.1H1638.0V682.1H1639.0V684ZM1643.0 684V682.1H1644.0V682.1H1645.0V684ZM1650.0 684V679.7H1651.0V679.2H1652.0V679.2H1653.0V679.2H1654.0V684ZM1656.0 684V682.2H1657.0V684ZM1659.0 684V679.7H1660.0V679.7H1661.0V679.7H1662.0V684ZM1665.0 684V682.3H1666.0V682.4H1667.0V684ZM1670.0 684V682.6H1671.0V674.7H1672.0V674.7H1673.0V682.3H1674.0V674.7H1675.0V674.7H1676.0V684ZM1683.0 684V681.8H1684.0V683.3H1685.0V683.3H1686.0V684ZM1689.0 684V679.6H1690.0V679.6H1691.0V679.6H1692.0V679.6H1693.0V679.6H1694.0V674.7H1695.0V674.7H1696.0V674.7H1697.0V684ZM1700.0 684V681.8H1701.0V680.0H1702.0V680.0H1703.0V680.0H1704.0V675.6H1705.0V682.6H1706.0V682.6H1707.0V682.6H1708.0V682.2H1709.0V682.2H1710.0V684ZM1712.0 684V681.5H1713.0V681.5H1714.0V682.9H1715.0V682.9H1716.0V680.3H1717.0V684ZM1720.0 684V676.9H1721.0V676.9H1722.0V684ZM1725.0 684V674.7H1726.0V684ZM1728.0 684V678.8H1729.0V684ZM1730.0 684V676.4H1731.0V684ZM1737.0 684V677.7H1738.0V677.7H1739.0V678.5H1740.0V678.5H1741.0V681.7H1742.0V681.7H1743.0V672.0H1744.0V672.0H1745.0V672.0H1746.0V672.0H1747.0V662.0H1748.0V662.0H1749.0V672.0H1750.0V672.0H1751.0V672.0H1752.0V684ZM1755.0 684V682.8H1756.0V674.7H1757.0V674.7H1758.0V674.7H1759.0V679.5H1760.0V679.5H1761.0V684ZM1764.0 684V676.5H1765.0V676.5H1766.0V677.5H1767.0V677.5H1768.0V684ZM1771.0 684V679.2H1772.0V679.2H1773.0V680.0H1774.0V674.7H1775.0V684ZM1778.0 684V672.5H1779.0V672.5H1780.0V672.5H1781.0V681.7H1782.0V681.7H1783.0V681.7H1784.0V677.1H1785.0V674.7H1786.0V674.7H1787.0V682.8H1788.0V682.8H1789.0V684ZM1792.0 684V680.3H1793.0V680.3H1794.0V684ZM1795.0 684V681.3H1796.0V681.3H1797.0V681.3H1798.0V684ZM1801.0 684V680.3H1802.0V680.3H1803.0V680.3H1804.0V674.7H1805.0V684ZM1806.0 684V681.8H1807.0V683.0H1808.0V678.6H1809.0V678.6H1810.0V678.6H1811.0V684ZM1813.0 684V675.4H1814.0V677.2H1815.0V674.7H1816.0V684ZM1817.0 684V678.9H1818.0V678.9H1819.0V682.7H1820.0V676.0H1821.0V676.0H1822.0V676.0H1823.0V676.0H1824.0V665.0H1825.0V665.0H1826.0V676.0H1827.0V676.0H1828.0V676.0H1829.0V676.0H1830.0V684ZM1839.0 684V678.1H1840.0V674.0H1841.0V674.0H1842.0V674.0H1843.0V674.0H1844.0V674.0H1845.0V644.0H1846.0V644.0H1847.0V674.0H1848.0V674.0H1849.0V669.2H1850.0V669.2H1851.0V669.2H1852.0V674.0H1853.0V674.0H1854.0V657.0H1855.0V657.0H1856.0V674.0H1857.0V674.0H1858.0V674.0H1859.0V674.0H1860.0V674.0H1861.0V674.0H1862.0V681.2H1863.0V675.9H1864.0V675.9H1865.0V684ZM1866.0 684V669.8H1867.0V684ZM1871.0 684V669.3H1872.0V669.3H1873.0V684ZM1874.0 684V680.3H1875.0V680.3H1876.0V680.3H1877.0V682.2H1878.0V677.9H1879.0V682.3H1880.0V682.3H1881.0V682.3H1882.0V684ZM1884.0 684V680.5H1885.0V680.5H1886.0V682.4H1887.0V681.3H1888.0V681.3H1889.0V672.6H1890.0V672.6H1891.0V684ZM1896.0 684V681.9H1897.0V684ZM1898.0 684V675.1H1899.0V679.5H1900.0V679.5H1901.0V684ZM1905.0 684V676.0H1906.0V676.0H1907.0V676.0H1908.0V676.0H1909.0V676.0H1910.0V676.0H1911.0V654.0H1912.0V654.0H1913.0V654.0H1914.0V676.0H1915.0V676.0H1916.0V676.0H1917.0V676.0H1918.0V674.1H1919.0V676.0H1920.0V676.0H1921.0V676.0H1922.0V676.0H1923.0V676.0H1924.0V676.0H1925.0V684ZM1928.0 684V680.8H1929.0V680.8H1930.0V682.3H1931.0V682.3H1932.0V684ZM1935.0 684V680.7H1936.0V680.7H1937.0V684ZM1946.0 684V680.2H1947.0V680.2H1948.0V680.2H1949.0V679.2H1950.0V684ZM1952.0 684V674.7H1953.0V674.7H1954.0V684Z" fill="#5a0a5c"/>
<rect x="936" y="920.1" width="1020" height="1" fill="#d8e8d8"/><path d="M936.0 920.6V918.8H937.0V918.8H938.0V916.4H939.0V918.8H940.0V918.8H941.0V911.3H942.0V911.3H943.0V919.1H944.0V919.1H945.0V920.6ZM948.0 920.6V914.2H949.0V914.2H950.0V914.2H951.0V920.6ZM952.0 920.6V917.2H953.0V917.1H954.0V920.6ZM956.0 920.6V918.1H957.0V920.6ZM959.0 920.6V912.1H960.0V920.6ZM961.0 920.6V912.2H962.0V918.2H963.0V916.7H964.0V916.2H965.0V911.3H966.0V916.2H967.0V916.2H968.0V911.3H969.0V915.1H970.0V918.5H971.0V918.5H972.0V918.5H973.0V917.3H974.0V917.3H975.0V916.0H976.0V919.0H977.0V918.0H978.0V917.2H979.0V913.8H980.0V916.3H981.0V916.3H982.0V911.3H983.0V916.1H984.0V916.1H985.0V913.9H986.0V913.6H987.0V913.6H988.0V911.6H989.0V911.6H990.0V911.6H991.0V911.6H992.0V911.6H993.0V905.6H994.0V905.6H995.0V905.6H996.0V905.6H997.0V905.6H998.0V911.6H999.0V911.6H1000.0V911.6H1001.0V911.6H1002.0V911.6H1003.0V916.5H1004.0V912.9H1005.0V916.7H1006.0V916.3H1007.0V916.3H1008.0V918.5H1009.0V918.5H1010.0V920.6ZM1013.0 920.6V916.0H1014.0V916.0H1015.0V916.0H1016.0V920.6ZM1017.0 920.6V915.5H1018.0V915.5H1019.0V915.5H1020.0V917.0H1021.0V920.6ZM1023.0 920.6V918.8H1024.0V914.8H1025.0V914.8H1026.0V916.5H1027.0V916.5H1028.0V916.5H1029.0V917.3H1030.0V915.5H1031.0V917.4H1032.0V918.6H1033.0V918.6H1034.0V918.6H1035.0V911.3H1036.0V917.3H1037.0V917.3H1038.0V917.3H1039.0V918.5H1040.0V919.1H1041.0V918.7H1042.0V916.9H1043.0V920.6ZM1045.0 920.6V917.2H1046.0V916.6H1047.0V912.3H1048.0V920.6ZM1053.0 920.6V919.4H1054.0V920.6ZM1056.0 920.6V912.6H1057.0V912.6H1058.0V904.6H1059.0V904.6H1060.0V879.6H1061.0V879.6H1062.0V830.6H1063.0V786.6H1064.0V786.6H1065.0V786.6H1066.0V730.6H1067.0V730.6H1068.0V696.6H1069.0V696.6H1070.0V742.6H1071.0V742.6H1072.0V830.6H1073.0V870.6H1074.0V870.6H1075.0V904.6H1076.0V904.6H1077.0V904.6H1078.0V912.6H1079.0V912.6H1080.0V912.6H1081.0V912.6H1082.0V920.6ZM1085.0 920.6V918.3H1086.0V918.3H1087.0V918.3H1088.0V920.6ZM1090.0 920.6V912.9H1091.0V912.9H1092.0V912.9H1093.0V912.8H1094.0V912.8H1095.0V912.8H1096.0V915.3H1097.0V915.3H1098.0V917.7H1099.0V916.1H1100.0V918.1H1101.0V918.1H1102.0V918.1H1103.0V915.4H1104.0V915.4H1105.0V915.4H1106.0V915.2H1107.0V920.6ZM1108.0 920.6V916.2H1109.0V920.6ZM1111.0 920.6V914.7H1112.0V914.7H1113.0V920.6ZM1115.0 920.6V916.1H1116.0V916.1H1117.0V920.6ZM1123.0 920.6V916.4H1124.0V918.0H1125.0V918.0H1126.0V911.3H1127.0V918.5H1128.0V918.5H1129.0V917.9H1130.0V920.6ZM1132.0 920.6V912.3H1133.0V911.3H1134.0V920.6ZM1136.0 920.6V911.3H1137.0V911.3H1138.0V911.3H1139.0V915.1H1140.0V915.1H1141.0V916.3H1142.0V916.3H1143.0V916.3H1144.0V913.1H1145.0V913.1H1146.0V919.3H1147.0V919.3H1148.0V919.3H1149.0V918.3H1150.0V918.3H1151.0V918.3H1152.0V918.0H1153.0V916.5H1154.0V916.5H1155.0V917.8H1156.0V917.8H1157.0V915.6H1158.0V918.6H1159.0V915.4H1160.0V915.4H1161.0V917.5H1162.0V916.9H1163.0V912.1H1164.0V912.1H1165.0V917.5H1166.0V917.5H1167.0V920.6ZM1168.0 920.6V917.6H1169.0V917.6H1170.0V918.6H1171.0V918.6H1172.0V918.6H1173.0V920.6ZM1175.0 920.6V917.9H1176.0V918.6H1177.0V918.6H1178.0V917.3H1179.0V918.7H1180.0V920.6ZM1181.0 920.6V918.6H1182.0V918.6H1183.0V919.0H1184.0V918.3H1185.0V918.3H1186.0V920.6ZM1187.0 920.6V918.4H1188.0V920.6ZM1190.0 920.6V915.4H1191.0V915.9H1192.0V915.9H1193.0V915.9H1194.0V915.4H1195.0V915.4H1196.0V913.3H1197.0V916.5H1198.0V916.5H1199.0V916.5H1200.0V916.5H1201.0V916.5H1202.0V916.0H1203.0V916.0H1204.0V916.5H1205.0V918.2H1206.0V918.2H1207.0V918.2H1208.0V920.6ZM1209.0 920.6V917.0H1210.0V917.0H1211.0V915.9H1212.0V915.9H1213.0V917.4H1214.0V917.4H1215.0V920.6ZM1219.0 920.6V915.9H1220.0V915.9H1221.0V915.9H1222.0V917.4H1223.0V917.4H1224.0V918.9H1225.0V918.9H1226.0V915.2H1227.0V914.1H1228.0V914.1H1229.0V919.2H1230.0V919.2H1231.0V918.2H1232.0V915.9H1233.0V915.9H1234.0V917.5H1235.0V918.9H1236.0V918.9H1237.0V920.6ZM1239.0 920.6V917.5H1240.0V914.0H1241.0V914.0H1242.0V917.4H1243.0V917.4H1244.0V917.4H1245.0V917.2H1246.0V904.6H1247.0V904.6H1248.0V916.8H1249.0V918.7H1250.0V918.3H1251.0V918.3H1252.0V918.3H1253.0V918.7H1254.0V917.4H1255.0V916.2H1256.0V916.2H1257.0V919.2H1258.0V919.2H1259.0V918.2H1260.0V918.2H1261.0V918.2H1262.0V920.6ZM1264.0 920.6V915.8H1265.0V916.7H1266.0V911.3H1267.0V915.6H1268.0V915.6H1269.0V920.6ZM1270.0 920.6V919.2H1271.0V915.2H1272.0V915.2H1273.0V917.6H1274.0V917.8H1275.0V918.9H1276.0V918.9H1277.0V918.9H1278.0V915.1H1279.0V912.5H1280.0V912.5H1281.0V919.2H1282.0V919.2H1283.0V914.3H1284.0V914.3H1285.0V920.6ZM1286.0 920.6V919.5H1287.0V919.5H1288.0V919.5H1289.0V919.1H1290.0V920.6ZM1291.0 920.6V917.9H1292.0V917.9H1293.0V917.9H1294.0V918.5H1295.0V918.5H1296.0V918.5H1297.0V918.4H1298.0V918.4H1299.0V918.2H1300.0V918.2H1301.0V915.6H1302.0V911.3H1303.0V920.6ZM1306.0 920.6V918.5H1307.0V913.6H1308.0V913.6H1309.0V920.6ZM1312.0 920.6V919.5H1313.0V919.5H1314.0V911.3H1315.0V920.6ZM1317.0 920.6V916.1H1318.0V916.1H1319.0V915.6H1320.0V914.1H1321.0V914.1H1322.0V912.1H1323.0V912.1H1324.0V918.0H1325.0V918.0H1326.0V911.3H1327.0V911.3H1328.0V917.8H1329.0V917.8H1330.0V918.3H1331.0V915.1H1332.0V915.1H1333.0V918.5H1334.0V918.5H1335.0V911.3H1336.0V918.0H1337.0V918.0H1338.0V920.6ZM1345.0 920.6V917.5H1346.0V917.9H1347.0V914.9H1348.0V914.9H1349.0V914.9H1350.0V917.5H1351.0V920.6ZM1352.0 920.6V918.3H1353.0V918.3H1354.0V918.3H1355.0V911.8H1356.0V919.1H1357.0V917.9H1358.0V915.7H1359.0V913.6H1360.0V913.6H1361.0V914.2H1362.0V914.2H1363.0V918.1H1364.0V918.1H1365.0V918.1H1366.0V918.5H1367.0V918.5H1368.0V918.9H1369.0V916.1H1370.0V914.4H1371.0V912.8H1372.0V912.8H1373.0V916.6H1374.0V916.6H1375.0V918.7H1376.0V920.6ZM1379.0 920.6V915.9H1380.0V911.3H1381.0V920.6ZM1382.0 920.6V918.2H1383.0V918.2H1384.0V918.2H1385.0V911.3H1386.0V911.3H1387.0V911.3H1388.0V918.9H1389.0V919.0H1390.0V919.1H1391.0V919.1H1392.0V919.1H1393.0V914.2H1394.0V917.8H1395.0V917.8H1396.0V920.6ZM1397.0 920.6V918.1H1398.0V914.6H1399.0V914.5H1400.0V920.6ZM1401.0 920.6V911.3H1402.0V917.4H1403.0V917.5H1404.0V917.5H1405.0V916.1H1406.0V918.5H1407.0V916.5H1408.0V920.6ZM1409.0 920.6V911.3H1410.0V920.6ZM1411.0 920.6V916.4H1412.0V916.4H1413.0V920.6ZM1417.0 920.6V919.0H1418.0V920.6ZM1421.0 920.6V918.6H1422.0V918.6H1423.0V915.5H1424.0V912.1H1425.0V912.1H1426.0V918.2H1427.0V918.2H1428.0V917.3H1429.0V917.3H1430.0V917.3H1431.0V920.6ZM1433.0 920.6V917.2H1434.0V920.6ZM1435.0 920.6V913.0H1436.0V920.6ZM1438.0 920.6V916.3H1439.0V920.6ZM1442.0 920.6V917.0H1443.0V918.2H1444.0V918.2H1445.0V913.3H1446.0V918.9H1447.0V920.6ZM1451.0 920.6V918.1H1452.0V918.1H1453.0V915.1H1454.0V918.0H1455.0V918.0H1456.0V914.4H1457.0V914.4H1458.0V916.5H1459.0V916.5H1460.0V920.6ZM1465.0 920.6V911.3H1466.0V911.3H1467.0V911.3H1468.0V916.9H1469.0V916.9H1470.0V917.7H1471.0V917.7H1472.0V917.7H1473.0V916.4H1474.0V920.6ZM1476.0 920.6V917.7H1477.0V919.3H1478.0V919.3H1479.0V919.3H1480.0V916.7H1481.0V920.6ZM1483.0 920.6V911.3H1484.0V911.3H1485.0V911.3H1486.0V911.3H1487.0V916.0H1488.0V916.2H1489.0V916.2H1490.0V917.4H1491.0V917.4H1492.0V917.4H1493.0V915.2H1494.0V915.2H1495.0V915.2H1496.0V916.4H1497.0V916.4H1498.0V915.2H1499.0V919.0H1500.0V919.0H1501.0V919.0H1502.0V918.4H1503.0V918.4H1504.0V915.3H1505.0V915.3H1506.0V915.3H1507.0V916.6H1508.0V916.6H1509.0V916.6H1510.0V919.3H1511.0V915.0H1512.0V915.0H1513.0V915.0H1514.0V917.8H1515.0V918.4H1516.0V918.4H1517.0V918.4H1518.0V920.6ZM1521.0 920.6V915.6H1522.0V915.6H1523.0V915.6H1524.0V917.9H1525.0V917.9H1526.0V915.8H1527.0V918.9H1528.0V918.7H1529.0V920.6ZM1531.0 920.6V918.9H1532.0V918.9H1533.0V918.9H1534.0V917.4H1535.0V916.7H1536.0V916.7H1537.0V916.7H1538.0V915.5H1539.0V915.5H1540.0V920.6ZM1541.0 920.6V916.6H1542.0V916.6H1543.0V920.6ZM1544.0 920.6V915.5H1545.0V917.0H1546.0V917.0H1547.0V917.0H1548.0V919.6H1549.0V919.6H1550.0V919.6H1551.0V918.6H1552.0V918.6H1553.0V920.6ZM1556.0 920.6V914.4H1557.0V917.1H1558.0V911.3H1559.0V911.3H1560.0V920.6ZM1562.0 920.6V912.0H1563.0V912.0H1564.0V920.6ZM1565.0 920.6V917.8H1566.0V917.8H1567.0V917.8H1568.0V911.6H1569.0V915.5H1570.0V917.0H1571.0V917.0H1572.0V912.5H1573.0V911.3H1574.0V911.3H1575.0V918.3H1576.0V918.3H1577.0V914.5H1578.0V912.7H1579.0V912.7H1580.0V919.4H1581.0V913.6H1582.0V920.6ZM1584.0 920.6V918.5H1585.0V918.5H1586.0V913.5H1587.0V913.5H1588.0V920.6ZM1590.0 920.6V919.4H1591.0V919.4H1592.0V914.1H1593.0V914.1H1594.0V913.5H1595.0V913.5H1596.0V918.3H1597.0V913.4H1598.0V913.4H1599.0V916.9H1600.0V916.9H1601.0V916.9H1602.0V914.3H1603.0V914.3H1604.0V914.9H1605.0V917.2H1606.0V917.2H1607.0V918.0H1608.0V918.0H1609.0V918.5H1610.0V918.6H1611.0V918.4H1612.0V918.4H1613.0V918.4H1614.0V911.3H1615.0V911.3H1616.0V920.6ZM1617.0 920.6V918.8H1618.0V918.8H1619.0V918.8H1620.0V914.0H1621.0V914.0H1622.0V915.1H1623.0V915.1H1624.0V920.6ZM1626.0 920.6V916.8H1627.0V916.8H1628.0V916.8H1629.0V916.0H1630.0V916.0H1631.0V916.5H1632.0V916.5H1633.0V918.2H1634.0V918.2H1635.0V918.2H1636.0V920.6ZM1638.0 920.6V916.2H1639.0V915.2H1640.0V916.1H1641.0V919.1H1642.0V918.9H1643.0V918.9H1644.0V917.9H1645.0V917.9H1646.0V917.8H1647.0V920.6ZM1649.0 920.6V911.3H1650.0V911.3H1651.0V912.3H1652.0V912.3H1653.0V920.6ZM1654.0 920.6V914.9H1655.0V914.9H1656.0V914.8H1657.0V914.8H1658.0V914.8H1659.0V920.6ZM1662.0 920.6V911.3H1663.0V920.6ZM1664.0 920.6V917.0H1665.0V917.0H1666.0V917.0H1667.0V918.1H1668.0V918.1H1669.0V920.6ZM1673.0 920.6V918.8H1674.0V918.8H1675.0V920.6ZM1676.0 920.6V917.5H1677.0V912.4H1678.0V912.4H1679.0V912.4H1680.0V917.9H1681.0V911.3H1682.0V911.3H1683.0V911.3H1684.0V911.3H1685.0V911.3H1686.0V917.3H1687.0V920.6ZM1688.0 920.6V918.2H1689.0V915.4H1690.0V915.4H1691.0V915.3H1692.0V919.2H1693.0V919.2H1694.0V920.6ZM1695.0 920.6V918.2H1696.0V918.2H1697.0V920.6ZM1698.0 920.6V916.9H1699.0V916.9H1700.0V916.9H1701.0V920.6ZM1703.0 920.6V917.8H1704.0V917.3H1705.0V917.3H1706.0V918.3H1707.0V918.3H1708.0V920.6ZM1711.0 920.6V916.2H1712.0V919.1H1713.0V919.1H1714.0V920.6ZM1715.0 920.6V918.9H1716.0V916.8H1717.0V916.8H1718.0V920.6ZM1719.0 920.6V913.6H1720.0V917.1H1721.0V917.1H1722.0V916.9H1723.0V911.3H1724.0V911.3H1725.0V911.3H1726.0V911.3H1727.0V911.3H1728.0V916.5H1729.0V916.5H1730.0V911.5H1731.0V918.3H1732.0V918.3H1733.0V920.6ZM1735.0 920.6V919.0H1736.0V919.0H1737.0V919.1H1738.0V919.1H1739.0V918.6H1740.0V920.6ZM1742.0 920.6V913.9H1743.0V913.9H1744.0V918.3H1745.0V918.3H1746.0V920.6ZM1747.0 920.6V918.4H1748.0V918.4H1749.0V911.8H1750.0V911.8H1751.0V917.5H1752.0V917.5H1753.0V919.3H1754.0V920.6ZM1756.0 920.6V916.4H1757.0V916.4H1758.0V916.4H1759.0V911.3H1760.0V911.3H1761.0V914.8H1762.0V914.8H1763.0V918.7H1764.0V918.1H1765.0V916.7H1766.0V916.7H1767.0V916.7H1768.0V918.3H1769.0V918.3H1770.0V918.3H1771.0V916.0H1772.0V916.0H1773.0V917.1H1774.0V912.2H1775.0V918.6H1776.0V920.6ZM1777.0 920.6V915.2H1778.0V915.2H1779.0V915.2H1780.0V916.8H1781.0V916.8H1782.0V919.1H1783.0V919.1H1784.0V919.1H1785.0V917.3H1786.0V917.3H1787.0V917.3H1788.0V915.3H1789.0V915.3H1790.0V920.6ZM1794.0 920.6V914.5H1795.0V914.5H1796.0V918.4H1797.0V918.4H1798.0V918.4H1799.0V917.2H1800.0V917.2H1801.0V917.5H1802.0V917.5H1803.0V917.5H1804.0V920.6ZM1809.0 920.6V918.1H1810.0V918.8H1811.0V918.8H1812.0V918.8H1813.0V920.6ZM1815.0 920.6V919.1H1816.0V919.1H1817.0V911.3H1818.0V911.3H1819.0V911.3H1820.0V914.9H1821.0V914.9H1822.0V915.9H1823.0V915.9H1824.0V911.7H1825.0V911.7H1826.0V913.8H1827.0V913.8H1828.0V913.8H1829.0V916.8H1830.0V916.8H1831.0V916.8H1832.0V917.8H1833.0V917.8H1834.0V910.8H1835.0V910.8H1836.0V909.6H1837.0V909.6H1838.0V903.6H1839.0V903.6H1840.0V903.6H1841.0V903.5H1842.0V917.1H1843.0V914.0H1844.0V914.0H1845.0V914.3H1846.0V914.1H1847.0V914.1H1848.0V918.5H1849.0V914.4H1850.0V914.4H1851.0V914.4H1852.0V911.3H1853.0V911.3H1854.0V911.3H1855.0V915.3H1856.0V909.8H1857.0V909.8H1858.0V909.8H1859.0V912.4H1860.0V903.6H1861.0V903.6H1862.0V903.6H1863.0V903.6H1864.0V903.6H1865.0V903.6H1866.0V914.9H1867.0V914.9H1868.0V911.7H1869.0V911.3H1870.0V911.3H1871.0V913.8H1872.0V913.8H1873.0V913.8H1874.0V909.2H1875.0V917.0H1876.0V912.3H1877.0V912.3H1878.0V912.3H1879.0V913.3H1880.0V915.8H1881.0V915.8H1882.0V915.8H1883.0V917.2H1884.0V913.7H1885.0V913.7H1886.0V916.8H1887.0V916.8H1888.0V915.9H1889.0V906.3H1890.0V906.3H1891.0V911.7H1892.0V913.9H1893.0V915.2H1894.0V903.0H1895.0V903.0H1896.0V903.0H1897.0V905.9H1898.0V916.5H1899.0V916.5H1900.0V916.5H1901.0V916.4H1902.0V916.4H1903.0V916.4H1904.0V912.4H1905.0V919.3H1906.0V911.3H1907.0V911.3H1908.0V918.7H1909.0V918.7H1910.0V911.3H1911.0V915.9H1912.0V915.9H1913.0V915.9H1914.0V916.3H1915.0V916.3H1916.0V916.3H1917.0V917.3H1918.0V917.3H1919.0V916.8H1920.0V916.8H1921.0V920.6ZM1922.0 920.6V917.8H1923.0V920.6ZM1924.0 920.6V915.8H1925.0V920.6ZM1926.0 920.6V911.3H1927.0V911.3H1928.0V911.3H1929.0V915.5H1930.0V915.5H1931.0V915.5H1932.0V918.3H1933.0V920.6ZM1935.0 920.6V917.7H1936.0V917.7H1937.0V920.6ZM1939.0 920.6V916.2H1940.0V916.2H1941.0V916.2H1942.0V917.7H1943.0V916.0H1944.0V916.0H1945.0V916.0H1946.0V915.3H1947.0V915.0H1948.0V918.9H1949.0V918.5H1950.0V920.6ZM1954.0 920.6V915.5H1955.0V915.5H1956.0V920.6Z" fill="#0c5c0c"/>
<rect x="40.5" y="195.5" width="301" height="735" fill="none" stroke="#000" stroke-width="3"/>
<rect x="528.5" y="199.5" width="326" height="731" fill="none" stroke="#000" stroke-width="3"/>
<rect x="934.5" y="199" width="1024" height="731.5" fill="none" stroke="#000" stroke-width="3"/>
<rect x="215" y="181.5" width="130.6" height="2.2" fill="#000"/>
<rect x="649" y="170.4" width="194.5" height="2.2" fill="#000"/>
<rect x="1762.4" y="182.1" width="117.4" height="2.2" fill="#000"/>
<rect x="54" y="1017" width="125" height="5.2" fill="#1414c8"/><rect x="54.1" y="986" width="2.8" height="63" fill="#1414c8"/><rect x="76.6" y="986" width="2.8" height="63" fill="#1414c8"/><rect x="86.6" y="986" width="2.8" height="63" fill="#1414c8"/><rect x="138.6" y="986" width="2.8" height="63" fill="#1414c8"/><rect x="177.6" y="986" width="2.8" height="63" fill="#1414c8"/><rect x="53.3" y="999" width="3.2" height="40" fill="#1414c8"/><rect x="179" y="998" width="41" height="37" fill="#1414c8"/><path d="M71.0 1010.5 Q76.0 1019.5 71.0 1028.5" fill="none" stroke="#1414c8" stroke-width="1.6"/><path d="M102.0 1010.5 Q107.0 1019.5 102.0 1028.5" fill="none" stroke="#1414c8" stroke-width="1.6"/><path d="M154.0 1010.5 Q159.0 1019.5 154.0 1028.5" fill="none" stroke="#1414c8" stroke-width="1.6"/><rect x="564" y="1013" width="283" height="5.2" fill="#1414c8"/><rect x="563.1" y="979.5" width="2.8" height="68" fill="#1414c8"/><rect x="580.6" y="979.5" width="2.8" height="68" fill="#1414c8"/><rect x="562.8" y="995" width="3.2" height="36" fill="#1414c8"/><path d="M596.0 1006.5 Q601.0 1015.5 596.0 1024.5" fill="none" stroke="#1414c8" stroke-width="1.6"/><path d="M631.0 1006.5 Q636.0 1015.5 631.0 1024.5" fill="none" stroke="#1414c8" stroke-width="1.6"/><path d="M666.0 1006.5 Q671.0 1015.5 666.0 1024.5" fill="none" stroke="#1414c8" stroke-width="1.6"/><path d="M701.0 1006.5 Q706.0 1015.5 701.0 1024.5" fill="none" stroke="#1414c8" stroke-width="1.6"/><path d="M736.0 1006.5 Q741.0 1015.5 736.0 1024.5" fill="none" stroke="#1414c8" stroke-width="1.6"/><path d="M772.0 1006.5 Q777.0 1015.5 772.0 1024.5" fill="none" stroke="#1414c8" stroke-width="1.6"/><path d="M807.0 1006.5 Q812.0 1015.5 807.0 1024.5" fill="none" stroke="#1414c8" stroke-width="1.6"/><rect x="845.5" y="1004" width="2" height="24" fill="#1414c8" opacity="0.6"/><rect x="1440" y="1009.5" width="384" height="5" fill="#1414c8"/><rect x="1438.9" y="990.6" width="3" height="40.4" fill="#1414c8"/><rect x="1466.2" y="990.6" width="3" height="40.4" fill="#1414c8"/><rect x="1616.5" y="990.6" width="3" height="40.4" fill="#1414c8"/><rect x="1822.5" y="990.6" width="3" height="40.4" fill="#1414c8"/><rect x="1781.4" y="990.6" width="8.4" height="40.4" fill="#1414c8"/><path d="M1465.0 1003 Q1461.0 1012 1465.0 1021" fill="none" stroke="#1414c8" stroke-width="1.6"/><path d="M1492.0 1003 Q1488.0 1012 1492.0 1021" fill="none" stroke="#1414c8" stroke-width="1.6"/><path d="M1527.0 1003 Q1523.0 1012 1527.0 1021" fill="none" stroke="#1414c8" stroke-width="1.6"/><path d="M1562.0 1003 Q1558.0 1012 1562.0 1021" fill="none" stroke="#1414c8" stroke-width="1.6"/><path d="M1598.0 1003 Q1594.0 1012 1598.0 1021" fill="none" stroke="#1414c8" stroke-width="1.6"/><path d="M1642.0 1003 Q1638.0 1012 1642.0 1021" fill="none" stroke="#1414c8" stroke-width="1.6"/><path d="M1677.0 1003 Q1673.0 1012 1677.0 1021" fill="none" stroke="#1414c8" stroke-width="1.6"/><path d="M1713.0 1003 Q1709.0 1012 1713.0 1021" fill="none" stroke="#1414c8" stroke-width="1.6"/><path d="M1748.0 1003 Q1744.0 1012 1748.0 1021" fill="none" stroke="#1414c8" stroke-width="1.6"/><path d="M1814.0 1003 Q1810.0 1012 1814.0 1021" fill="none" stroke="#1414c8" stroke-width="1.6"/><path d="M1819.0 1003 Q1815.0 1012 1819.0 1021" fill="none" stroke="#1414c8" stroke-width="1.6"/><rect x="1851" y="1009.5" width="61" height="5" fill="#1414c8"/><rect x="1851" y="990.6" width="7" height="40.4" fill="#1414c8"/><rect x="1855.5" y="976.6" width="3" height="70" fill="#1414c8"/><rect x="1874.5" y="976.6" width="8.5" height="70" fill="#1414c8"/><rect x="1900" y="976.6" width="6.5" height="70" fill="#1414c8"/><rect x="1905" y="990.6" width="7" height="40.4" fill="#1414c8"/><path d="M1867.0 1003 Q1871.0 1012 1867.0 1021" fill="none" stroke="#1414c8" stroke-width="1.6"/>
<text transform="translate(16.28,50.24) scale(0.904,1)" font-size="65.69" font-weight="bold" fill="#000">a</text>
<text transform="translate(503.92,51.34) scale(1.058,1)" font-size="65.65" font-weight="bold" fill="#000">b</text>
<text transform="translate(917.33,50.55) scale(1.051,1)" font-size="65.15" font-weight="bold" fill="#000">c</text>
<text transform="translate(13.27,1212.23) scale(1.112,1)" font-size="66.53" font-weight="bold" fill="#000">d</text>
<text transform="translate(960.29,1217.03) scale(1.039,1)" font-size="66.97" font-weight="bold" fill="#000">e</text>
<text x="48.76" y="116.58" font-size="29.48" font-weight="normal" stroke="#000" stroke-width="0.35" fill="#000">chr11:69,639,826-69,658,247</text>
<text x="508.27" y="116.24" font-size="29.30" font-weight="normal" stroke="#000" stroke-width="0.35" fill="#000">chr16:68,733,933-68,752,135</text>
<text x="1272.77" y="117.21" font-size="29.26" font-weight="normal" stroke="#000" stroke-width="0.35" fill="#000">chr8:127,656,463-127,744,166</text>
<text x="243.94" y="162.45" font-size="33.72" font-weight="normal" stroke="#000" stroke-width="0.35" fill="#000">10 kb</text>
<text x="718.94" y="153.20" font-size="33.72" font-weight="normal" stroke="#000" stroke-width="0.35" fill="#000">10 kb</text>
<text x="1784.04" y="172.82" font-size="33.68" font-weight="normal" stroke="#000" stroke-width="0.35" fill="#000">10 kb</text>
<text x="50.96" y="240.99" font-size="34.15" font-weight="normal" stroke="#000" stroke-width="0.35" fill="#000">45</text>
<text x="76.93" y="304.44" font-size="38.43" font-weight="bold" fill="#000">ER</text>
<text x="56.53" y="481.33" font-size="34.15" font-weight="normal" stroke="#000" stroke-width="0.35" fill="#000">86</text>
<text x="51.55" y="530.54" font-size="36.59" font-weight="bold" fill="#000">FOXA1</text>
<text x="47.71" y="726.22" font-size="33.98" font-weight="normal" stroke="#000" stroke-width="0.35" fill="#000">36</text>
<text x="56.07" y="775.67" font-size="37.31" font-weight="bold" fill="#000">ARID1A</text>
<text x="548.96" y="239.31" font-size="33.40" font-weight="normal" stroke="#000" stroke-width="0.35" fill="#000">187</text>
<text x="560.21" y="303.54" font-size="37.86" font-weight="bold" fill="#000">ER</text>
<text x="543.13" y="484.24" font-size="31.86" font-weight="normal" stroke="#000" stroke-width="0.35" fill="#000">81</text>
<text x="538.56" y="534.18" font-size="36.43" font-weight="bold" fill="#000">FOXA1</text>
<text x="543.24" y="731.09" font-size="34.52" font-weight="normal" stroke="#000" stroke-width="0.35" fill="#000">69</text>
<text x="543.06" y="775.76" font-size="37.45" font-weight="bold" fill="#000">ARID1A</text>
<text x="956.68" y="243.95" font-size="34.31" font-weight="normal" stroke="#000" stroke-width="0.35" fill="#000">266</text>
<text x="1437.27" y="242.02" font-size="37.82" font-weight="bold" fill="#000">ER</text>
<text x="964.04" y="482.91" font-size="34.54" font-weight="normal" stroke="#000" stroke-width="0.35" fill="#000">65</text>
<text x="1412.54" y="485.04" font-size="36.74" font-weight="bold" fill="#000">FOXA1</text>
<text x="950.11" y="731.72" font-size="35.41" font-weight="normal" stroke="#000" stroke-width="0.35" fill="#000">113</text>
<text x="1410.57" y="732.95" font-size="37.28" font-weight="bold" fill="#000">ARID1A</text>
<text x="83.97" y="1120.61" font-size="41.41" font-weight="bold" font-style="italic" fill="#000">CCND1</text>
<text x="560.73" y="1115.84" font-size="41.32" font-weight="bold" font-style="italic" fill="#000">CDH1</text>
<text x="1582.74" y="1117.71" font-size="41.99" font-weight="bold" font-style="italic" fill="#000">CASC11</text>
<text x="1848.07" y="1116.75" font-size="40.61" font-weight="bold" font-style="italic" fill="#000">MYC</text>
<defs><clipPath id="cG"><circle cx="345.4" cy="1693.0" r="297.4"/></clipPath><clipPath id="cP"><circle cx="403.6" cy="1529.0" r="215.0"/></clipPath><clipPath id="cB"><circle cx="567.2" cy="1694.6" r="204.75"/></clipPath></defs><circle cx="345.4" cy="1693.0" r="297.4" fill="#409e41"/><circle cx="403.6" cy="1529.0" r="215.0" fill="#9d63aa"/><circle cx="567.2" cy="1694.6" r="204.75" fill="#7bcdf3"/><g clip-path="url(#cG)"><circle cx="403.6" cy="1529.0" r="215.0" fill="#5e5568"/><circle cx="567.2" cy="1694.6" r="204.75" fill="#42ada8"/></g><g clip-path="url(#cP)"><circle cx="567.2" cy="1694.6" r="204.75" fill="#766bb5"/><g clip-path="url(#cG)"><circle cx="567.2" cy="1694.6" r="204.75" fill="#626796"/></g></g><circle cx="345.4" cy="1693.0" r="297.4" fill="none" stroke="#333" stroke-opacity="0.75" stroke-width="1.1"/><circle cx="403.6" cy="1529.0" r="215.0" fill="none" stroke="#333" stroke-opacity="0.75" stroke-width="1.1"/><circle cx="567.2" cy="1694.6" r="204.75" fill="none" stroke="#333" stroke-opacity="0.75" stroke-width="1.1"/>
<text x="323.18" y="1230.95" font-size="50.56" font-weight="bold" fill="#000">ZR-75-1 ChIP-seq</text>
<text x="564.64" y="1366.49" font-size="41.25" font-weight="bold" fill="#000">FOXA1</text>
<text x="766.72" y="1840.46" font-size="42.97" font-weight="bold" fill="#000">ER</text>
<text x="1.25" y="1977.10" font-size="41.86" font-weight="bold" fill="#000">ARID1A</text>
<text x="438.53" y="1396.18" font-size="28.91" font-weight="normal" stroke="#fff" stroke-width="0.35" fill="#fff">6190</text>
<text x="263.37" y="1532.59" font-size="28.06" font-weight="normal" stroke="#fff" stroke-width="0.35" fill="#fff">14052</text>
<text x="567.70" y="1516.64" font-size="26.13" font-weight="normal" stroke="#fff" stroke-width="0.35" fill="#fff">421</text>
<text x="456.67" y="1613.69" font-size="28.21" font-weight="normal" stroke="#fff" stroke-width="0.35" fill="#fff">9097</text>
<text x="675.59" y="1710.72" font-size="28.25" font-weight="normal" stroke="#111" stroke-width="0.35" fill="#111">8977</text>
<text x="497.20" y="1787.46" font-size="27.88" font-weight="normal" stroke="#111" stroke-width="0.35" fill="#111">8738</text>
<text x="180.30" y="1806.18" font-size="28.06" font-weight="normal" stroke="#111" stroke-width="0.35" fill="#111">25079</text>
<text x="1139.75" y="1233.77" font-size="50.03" font-weight="bold" fill="#000">ARID1A ChIP-seq in MCF7 cells</text>
<text x="1162.59" y="1371.25" font-size="41.73" font-weight="bold" fill="#000">Constant sites</text>
<text x="1193.22" y="1417.77" font-size="41.62" font-weight="bold" fill="#000">(n = 24,754)</text>
<text x="1682.40" y="1371.03" font-size="41.83" font-weight="bold" fill="#000">Reduced sites</text>
<text x="1722.53" y="1418.07" font-size="41.48" font-weight="bold" fill="#000">(n = 3,023)</text>
<path d="M1112.75 1949.0h5M1511.2 1949.0h-5" stroke="#000" stroke-width="1.6"/><path d="M1112.75 1872.9h5M1511.2 1872.9h-5" stroke="#000" stroke-width="1.6"/><path d="M1112.75 1796.8h5M1511.2 1796.8h-5" stroke="#000" stroke-width="1.6"/><path d="M1112.75 1720.7h5M1511.2 1720.7h-5" stroke="#000" stroke-width="1.6"/><path d="M1112.75 1644.6h5M1511.2 1644.6h-5" stroke="#000" stroke-width="1.6"/><path d="M1112.75 1568.5h5M1511.2 1568.5h-5" stroke="#000" stroke-width="1.6"/><path d="M1112.75 1492.4h5M1511.2 1492.4h-5" stroke="#000" stroke-width="1.6"/><path d="M1212.4 1468V1674M1212.4 1817V1949" fill="none" stroke="#222" stroke-width="2" stroke-dasharray="8 8.7"/><path d="M1412.1 1601V1749.5M1412.1 1850V1949" fill="none" stroke="#222" stroke-width="2" stroke-dasharray="8 8.7"/><path d="M1187.6 1466.8H1237.3M1187.6 1929.5H1237.3M1388 1599.7H1437" stroke="#222" stroke-width="2.4"/><path d="M1177.6 1674H1248.1Q1263.1 1674 1263.1 1689V1759.0L1237.1 1760L1263.1 1761.0V1802Q1263.1 1817 1248.1 1817H1177.6Q1162.6 1817 1162.6 1802V1761.0L1188.6 1760L1162.6 1759.0V1689Q1162.6 1674 1177.6 1674Z" fill="#008a00" stroke="#000" stroke-width="2.2" stroke-linejoin="miter"/><path d="M1377.4 1749.5H1448Q1463 1749.5 1463 1764.5V1808.2L1437 1809.2L1463 1810.2V1834.8Q1463 1849.8 1448 1849.8H1377.4Q1362.4 1849.8 1362.4 1834.8V1810.2L1388.4 1809.2L1362.4 1808.2V1764.5Q1362.4 1749.5 1377.4 1749.5Z" fill="#008a00" stroke="#000" stroke-width="2.2"/><rect x="1112.75" y="1440.9" width="398.45" height="508.20" fill="none" stroke="#000" stroke-width="3"/><path d="M1619.6 1947.2h5" stroke="#000" stroke-width="1.6"/><path d="M1619.6 1867.2h5" stroke="#000" stroke-width="1.6"/><path d="M1619.6 1787.2h5" stroke="#000" stroke-width="1.6"/><path d="M1619.6 1707.2h5" stroke="#000" stroke-width="1.6"/><path d="M1619.6 1627.2h5" stroke="#000" stroke-width="1.6"/><path d="M1619.6 1547.2h5" stroke="#000" stroke-width="1.6"/><path d="M1619.6 1467.2h5" stroke="#000" stroke-width="1.6"/><path d="M1721 1453V1628.5M1721 1749.2V1947" fill="none" stroke="#222" stroke-width="2" stroke-dasharray="8 8.7"/><path d="M1920.4 1663V1775M1920.4 1852.2V1947" fill="none" stroke="#222" stroke-width="2" stroke-dasharray="8 8.7"/><path d="M1695.8 1451.3H1745.5M1695.8 1907H1745.5M1896 1661.6H1945.3M1896 1946H1945.3" stroke="#222" stroke-width="2.4"/><path d="M1685.6 1628.5H1755.4Q1770.4 1628.5 1770.4 1643.5V1685.1000000000001L1744.9 1688.7L1770.4 1692.3V1734.2Q1770.4 1749.2 1755.4 1749.2H1685.6Q1670.6 1749.2 1670.6 1734.2V1692.3L1696.1 1688.7L1670.6 1685.1000000000001V1643.5Q1670.6 1628.5 1685.6 1628.5Z" fill="#008a00" stroke="#000" stroke-width="2.2"/><path d="M1885.2 1775H1956.1Q1971.1 1775 1971.1 1790V1810.7L1945.6 1813.5L1971.1 1816.3V1837.2Q1971.1 1852.2 1956.1 1852.2H1885.2Q1870.2 1852.2 1870.2 1837.2V1816.3L1895.7 1813.5L1870.2 1810.7V1790Q1870.2 1775 1885.2 1775Z" fill="#008a00" stroke="#000" stroke-width="2.2"/><rect x="1619.6" y="1441.0" width="397.40" height="507.20" fill="none" stroke="#000" stroke-width="3"/>
<text x="1044.93" y="1505.45" font-size="42.00" font-weight="normal" stroke="#000" stroke-width="0.35" fill="#000">60</text>
<text x="1044.93" y="1578.85" font-size="42.00" font-weight="normal" stroke="#000" stroke-width="0.35" fill="#000">50</text>
<text x="1043.23" y="1657.25" font-size="42.00" font-weight="normal" stroke="#000" stroke-width="0.35" fill="#000">40</text>
<text x="1044.63" y="1733.15" font-size="42.00" font-weight="normal" stroke="#000" stroke-width="0.35" fill="#000">30</text>
<text x="1044.93" y="1809.70" font-size="42.00" font-weight="normal" stroke="#000" stroke-width="0.35" fill="#000">20</text>
<text x="1042.53" y="1887.85" font-size="42.00" font-weight="normal" stroke="#000" stroke-width="0.35" fill="#000">10</text>
<text x="1062.49" y="1956.50" font-size="42.00" font-weight="normal" stroke="#000" stroke-width="0.35" fill="#000">0</text>
<text x="1555.53" y="1490.45" font-size="42.00" font-weight="normal" stroke="#000" stroke-width="0.35" fill="#000">30</text>
<text x="1555.66" y="1563.45" font-size="42.00" font-weight="normal" stroke="#000" stroke-width="0.35" fill="#000">25</text>
<text x="1553.13" y="1641.55" font-size="42.00" font-weight="normal" stroke="#000" stroke-width="0.35" fill="#000">20</text>
<text x="1555.96" y="1722.74" font-size="42.00" font-weight="normal" stroke="#000" stroke-width="0.35" fill="#000">15</text>
<text x="1555.83" y="1803.65" font-size="42.00" font-weight="normal" stroke="#000" stroke-width="0.35" fill="#000">10</text>
<text x="1573.41" y="1882.74" font-size="42.00" font-weight="normal" stroke="#000" stroke-width="0.35" fill="#000">5</text>
<text x="1573.29" y="1958.20" font-size="42.00" font-weight="normal" stroke="#000" stroke-width="0.35" fill="#000">0</text>
<text x="1281.93" y="1529.48" font-size="29.20" font-weight="normal" stroke="#000" stroke-width="0.35" fill="#000">p=2.23X10</text>
<rect x="1424.9" y="1515.6" width="5.6" height="1.7" fill="#000"/>
<text x="1431.18" y="1520.94" font-size="18.97" font-weight="normal" stroke="#000" stroke-width="0.35" fill="#000">308</text>
<text x="1778.73" y="1529.80" font-size="29.22" font-weight="normal" stroke="#000" stroke-width="0.35" fill="#000">p=3.5X10</text>
<rect x="1906.5" y="1516" width="4.5" height="1.7" fill="#000"/>
<text x="1911.02" y="1521.40" font-size="19.63" font-weight="normal" stroke="#000" stroke-width="0.35" fill="#000">28</text>
<text x="1157.31" y="1994.76" font-size="37.32" font-weight="normal" stroke="#000" stroke-width="0.35" fill="#000">Vehicle</text>
<text x="1345.89" y="1993.76" font-size="37.87" font-weight="normal" stroke="#000" stroke-width="0.35" fill="#000">Estrogen</text>
<text x="1667.41" y="1997.46" font-size="37.61" font-weight="normal" stroke="#000" stroke-width="0.35" fill="#000">Vehicle</text>
<text x="1859.82" y="1995.84" font-size="37.56" font-weight="normal" stroke="#000" stroke-width="0.35" fill="#000">Estrogen</text>
<text transform="translate(1014.56,1929.55) rotate(-90)" font-size="45.74" fill="#000" stroke="#000" stroke-width="0.35">Normalized tag density</text>
</svg>
</body></html>
